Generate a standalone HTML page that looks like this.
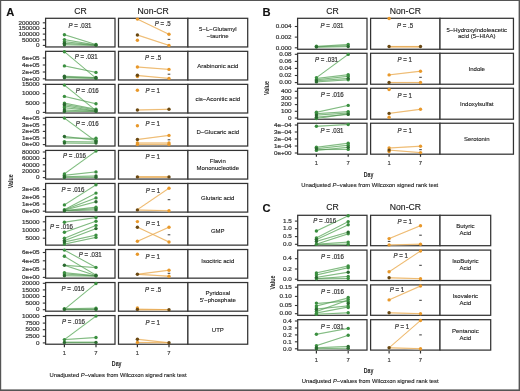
<!DOCTYPE html>
<html><head><meta charset="utf-8"><style>
html,body{margin:0;padding:0;background:#fff;width:520px;height:391px;overflow:hidden}
svg{display:block;font-family:"Liberation Sans", sans-serif;will-change:transform}
text{stroke-width:0.22px;paint-order:stroke}
.s{stroke:#3a3a3a}
.t{stroke:#1a1a1a;stroke-width:0.12px}
</style></head><body>
<svg width="520" height="391" viewBox="0 0 520 391">
<rect x="0" y="0" width="520" height="1" fill="#555"/><rect x="0" y="0" width="1.2" height="391" fill="#555"/><rect x="518.6" y="0" width="1.4" height="391" fill="#555"/><rect x="0" y="389.4" width="520" height="1.6" fill="#555"/>
<text class="t" x="6.20" y="15.70" font-size="11.2" text-anchor="start" fill="#111" font-weight="bold">A</text>
<text class="t" x="80.50" y="13.50" font-size="8.66" text-anchor="middle" fill="#1a1a1a" >CR</text>
<text class="t" x="153.25" y="13.50" font-size="8.66" text-anchor="middle" fill="#1a1a1a" >Non-CR</text>
<rect x="45.6" y="18.3" width="69.40" height="28.65" fill="#fff" stroke="#333" stroke-width="1.25"/>
<rect x="118.5" y="18.3" width="69.40" height="28.65" fill="#fff" stroke="#333" stroke-width="1.25"/>
<rect x="187.9" y="18.3" width="59.80" height="28.65" fill="#fff" stroke="#333" stroke-width="1.25"/>
<text class="t" x="217.80" y="30.98" font-size="6.0" text-anchor="middle" fill="#1a1a1a" >5−L−Glutamyl</text>
<text class="t" x="217.80" y="37.77" font-size="6.0" text-anchor="middle" fill="#1a1a1a" >−taurine</text>
<text class="s" x="0" y="0" font-size="5.5" text-anchor="end" fill="#3a3a3a" transform="translate(39.60,24.50) scale(1.15,1)">200000</text>
<line x1="42.800000000000004" y1="22.8" x2="45.6" y2="22.8" stroke="#333" stroke-width="1.1" />
<text class="s" x="0" y="0" font-size="5.5" text-anchor="end" fill="#3a3a3a" transform="translate(39.60,30.10) scale(1.15,1)">150000</text>
<line x1="42.800000000000004" y1="28.4" x2="45.6" y2="28.4" stroke="#333" stroke-width="1.1" />
<text class="s" x="0" y="0" font-size="5.5" text-anchor="end" fill="#3a3a3a" transform="translate(39.60,35.80) scale(1.15,1)">100000</text>
<line x1="42.800000000000004" y1="34.1" x2="45.6" y2="34.1" stroke="#333" stroke-width="1.1" />
<text class="s" x="0" y="0" font-size="5.5" text-anchor="end" fill="#3a3a3a" transform="translate(39.60,41.50) scale(1.15,1)">50000</text>
<line x1="42.800000000000004" y1="39.8" x2="45.6" y2="39.8" stroke="#333" stroke-width="1.1" />
<text class="s" x="0" y="0" font-size="5.5" text-anchor="end" fill="#3a3a3a" transform="translate(39.60,47.10) scale(1.15,1)">0</text>
<line x1="42.800000000000004" y1="45.4" x2="45.6" y2="45.4" stroke="#333" stroke-width="1.1" />
<rect x="45.6" y="51.33" width="69.40" height="28.65" fill="#fff" stroke="#333" stroke-width="1.25"/>
<rect x="118.5" y="51.33" width="69.40" height="28.65" fill="#fff" stroke="#333" stroke-width="1.25"/>
<rect x="187.9" y="51.33" width="59.80" height="28.65" fill="#fff" stroke="#333" stroke-width="1.25"/>
<text class="t" x="217.80" y="67.75" font-size="6.0" text-anchor="middle" fill="#1a1a1a" >Arabinonic acid</text>
<text class="s" x="0" y="0" font-size="5.5" text-anchor="end" fill="#3a3a3a" transform="translate(39.60,59.70) scale(1.15,1)">6e+05</text>
<line x1="42.800000000000004" y1="58" x2="45.6" y2="58" stroke="#333" stroke-width="1.1" />
<text class="s" x="0" y="0" font-size="5.5" text-anchor="end" fill="#3a3a3a" transform="translate(39.60,66.70) scale(1.15,1)">4e+05</text>
<line x1="42.800000000000004" y1="65" x2="45.6" y2="65" stroke="#333" stroke-width="1.1" />
<text class="s" x="0" y="0" font-size="5.5" text-anchor="end" fill="#3a3a3a" transform="translate(39.60,73.70) scale(1.15,1)">2e+05</text>
<line x1="42.800000000000004" y1="72" x2="45.6" y2="72" stroke="#333" stroke-width="1.1" />
<text class="s" x="0" y="0" font-size="5.5" text-anchor="end" fill="#3a3a3a" transform="translate(39.60,80.50) scale(1.15,1)">0e+00</text>
<line x1="42.800000000000004" y1="78.8" x2="45.6" y2="78.8" stroke="#333" stroke-width="1.1" />
<rect x="45.6" y="84.36" width="69.40" height="28.65" fill="#fff" stroke="#333" stroke-width="1.25"/>
<rect x="118.5" y="84.36" width="69.40" height="28.65" fill="#fff" stroke="#333" stroke-width="1.25"/>
<rect x="187.9" y="84.36" width="59.80" height="28.65" fill="#fff" stroke="#333" stroke-width="1.25"/>
<text class="t" x="217.80" y="100.78" font-size="6.0" text-anchor="middle" fill="#1a1a1a" >cis−Aconitic acid</text>
<text class="s" x="0" y="0" font-size="5.5" text-anchor="end" fill="#3a3a3a" transform="translate(39.60,86.00) scale(1.15,1)">15000</text>
<line x1="42.800000000000004" y1="84.3" x2="45.6" y2="84.3" stroke="#333" stroke-width="1.1" />
<text class="s" x="0" y="0" font-size="5.5" text-anchor="end" fill="#3a3a3a" transform="translate(39.60,95.40) scale(1.15,1)">10000</text>
<line x1="42.800000000000004" y1="93.7" x2="45.6" y2="93.7" stroke="#333" stroke-width="1.1" />
<text class="s" x="0" y="0" font-size="5.5" text-anchor="end" fill="#3a3a3a" transform="translate(39.60,104.70) scale(1.15,1)">5000</text>
<line x1="42.800000000000004" y1="103" x2="45.6" y2="103" stroke="#333" stroke-width="1.1" />
<text class="s" x="0" y="0" font-size="5.5" text-anchor="end" fill="#3a3a3a" transform="translate(39.60,114.10) scale(1.15,1)">0</text>
<line x1="42.800000000000004" y1="112.4" x2="45.6" y2="112.4" stroke="#333" stroke-width="1.1" />
<rect x="45.6" y="117.39" width="69.40" height="28.65" fill="#fff" stroke="#333" stroke-width="1.25"/>
<rect x="118.5" y="117.39" width="69.40" height="28.65" fill="#fff" stroke="#333" stroke-width="1.25"/>
<rect x="187.9" y="117.39" width="59.80" height="28.65" fill="#fff" stroke="#333" stroke-width="1.25"/>
<text class="t" x="217.80" y="133.81" font-size="6.0" text-anchor="middle" fill="#1a1a1a" >D−Glucaric acid</text>
<text class="s" x="0" y="0" font-size="5.5" text-anchor="end" fill="#3a3a3a" transform="translate(39.60,119.90) scale(1.15,1)">4e+05</text>
<line x1="42.800000000000004" y1="118.2" x2="45.6" y2="118.2" stroke="#333" stroke-width="1.1" />
<text class="s" x="0" y="0" font-size="5.5" text-anchor="end" fill="#3a3a3a" transform="translate(39.60,126.50) scale(1.15,1)">3e+05</text>
<line x1="42.800000000000004" y1="124.8" x2="45.6" y2="124.8" stroke="#333" stroke-width="1.1" />
<text class="s" x="0" y="0" font-size="5.5" text-anchor="end" fill="#3a3a3a" transform="translate(39.60,133.10) scale(1.15,1)">2e+05</text>
<line x1="42.800000000000004" y1="131.4" x2="45.6" y2="131.4" stroke="#333" stroke-width="1.1" />
<text class="s" x="0" y="0" font-size="5.5" text-anchor="end" fill="#3a3a3a" transform="translate(39.60,139.70) scale(1.15,1)">1e+05</text>
<line x1="42.800000000000004" y1="138" x2="45.6" y2="138" stroke="#333" stroke-width="1.1" />
<text class="s" x="0" y="0" font-size="5.5" text-anchor="end" fill="#3a3a3a" transform="translate(39.60,146.30) scale(1.15,1)">0e+00</text>
<line x1="42.800000000000004" y1="144.6" x2="45.6" y2="144.6" stroke="#333" stroke-width="1.1" />
<rect x="45.6" y="150.42000000000002" width="69.40" height="28.65" fill="#fff" stroke="#333" stroke-width="1.25"/>
<rect x="118.5" y="150.42000000000002" width="69.40" height="28.65" fill="#fff" stroke="#333" stroke-width="1.25"/>
<rect x="187.9" y="150.42000000000002" width="59.80" height="28.65" fill="#fff" stroke="#333" stroke-width="1.25"/>
<text class="t" x="217.80" y="163.09" font-size="6.0" text-anchor="middle" fill="#1a1a1a" >Flavin</text>
<text class="t" x="217.80" y="169.90" font-size="6.0" text-anchor="middle" fill="#1a1a1a" >Mononucleotide</text>
<text class="s" x="0" y="0" font-size="5.5" text-anchor="end" fill="#3a3a3a" transform="translate(39.60,153.70) scale(1.15,1)">80000</text>
<line x1="42.800000000000004" y1="152" x2="45.6" y2="152" stroke="#333" stroke-width="1.1" />
<text class="s" x="0" y="0" font-size="5.5" text-anchor="end" fill="#3a3a3a" transform="translate(39.60,160.10) scale(1.15,1)">60000</text>
<line x1="42.800000000000004" y1="158.4" x2="45.6" y2="158.4" stroke="#333" stroke-width="1.1" />
<text class="s" x="0" y="0" font-size="5.5" text-anchor="end" fill="#3a3a3a" transform="translate(39.60,166.50) scale(1.15,1)">40000</text>
<line x1="42.800000000000004" y1="164.8" x2="45.6" y2="164.8" stroke="#333" stroke-width="1.1" />
<text class="s" x="0" y="0" font-size="5.5" text-anchor="end" fill="#3a3a3a" transform="translate(39.60,172.90) scale(1.15,1)">20000</text>
<line x1="42.800000000000004" y1="171.2" x2="45.6" y2="171.2" stroke="#333" stroke-width="1.1" />
<text class="s" x="0" y="0" font-size="5.5" text-anchor="end" fill="#3a3a3a" transform="translate(39.60,179.30) scale(1.15,1)">0</text>
<line x1="42.800000000000004" y1="177.6" x2="45.6" y2="177.6" stroke="#333" stroke-width="1.1" />
<rect x="45.6" y="183.45000000000002" width="69.40" height="28.65" fill="#fff" stroke="#333" stroke-width="1.25"/>
<rect x="118.5" y="183.45000000000002" width="69.40" height="28.65" fill="#fff" stroke="#333" stroke-width="1.25"/>
<rect x="187.9" y="183.45000000000002" width="59.80" height="28.65" fill="#fff" stroke="#333" stroke-width="1.25"/>
<text class="t" x="217.80" y="199.88" font-size="6.0" text-anchor="middle" fill="#1a1a1a" >Glutaric acid</text>
<text class="s" x="0" y="0" font-size="5.5" text-anchor="end" fill="#3a3a3a" transform="translate(39.60,191.20) scale(1.15,1)">3e+06</text>
<line x1="42.800000000000004" y1="189.5" x2="45.6" y2="189.5" stroke="#333" stroke-width="1.1" />
<text class="s" x="0" y="0" font-size="5.5" text-anchor="end" fill="#3a3a3a" transform="translate(39.60,198.50) scale(1.15,1)">2e+06</text>
<line x1="42.800000000000004" y1="196.8" x2="45.6" y2="196.8" stroke="#333" stroke-width="1.1" />
<text class="s" x="0" y="0" font-size="5.5" text-anchor="end" fill="#3a3a3a" transform="translate(39.60,205.70) scale(1.15,1)">1e+06</text>
<line x1="42.800000000000004" y1="204" x2="45.6" y2="204" stroke="#333" stroke-width="1.1" />
<text class="s" x="0" y="0" font-size="5.5" text-anchor="end" fill="#3a3a3a" transform="translate(39.60,212.90) scale(1.15,1)">0e+00</text>
<line x1="42.800000000000004" y1="211.2" x2="45.6" y2="211.2" stroke="#333" stroke-width="1.1" />
<rect x="45.6" y="216.48000000000002" width="69.40" height="28.65" fill="#fff" stroke="#333" stroke-width="1.25"/>
<rect x="118.5" y="216.48000000000002" width="69.40" height="28.65" fill="#fff" stroke="#333" stroke-width="1.25"/>
<rect x="187.9" y="216.48000000000002" width="59.80" height="28.65" fill="#fff" stroke="#333" stroke-width="1.25"/>
<text class="t" x="217.80" y="232.91" font-size="6.0" text-anchor="middle" fill="#1a1a1a" >GMP</text>
<text class="s" x="0" y="0" font-size="5.5" text-anchor="end" fill="#3a3a3a" transform="translate(39.60,223.50) scale(1.15,1)">15000</text>
<line x1="42.800000000000004" y1="221.8" x2="45.6" y2="221.8" stroke="#333" stroke-width="1.1" />
<text class="s" x="0" y="0" font-size="5.5" text-anchor="end" fill="#3a3a3a" transform="translate(39.60,231.70) scale(1.15,1)">10000</text>
<line x1="42.800000000000004" y1="230" x2="45.6" y2="230" stroke="#333" stroke-width="1.1" />
<text class="s" x="0" y="0" font-size="5.5" text-anchor="end" fill="#3a3a3a" transform="translate(39.60,239.90) scale(1.15,1)">5000</text>
<line x1="42.800000000000004" y1="238.2" x2="45.6" y2="238.2" stroke="#333" stroke-width="1.1" />
<rect x="45.6" y="249.51000000000002" width="69.40" height="28.65" fill="#fff" stroke="#333" stroke-width="1.25"/>
<rect x="118.5" y="249.51000000000002" width="69.40" height="28.65" fill="#fff" stroke="#333" stroke-width="1.25"/>
<rect x="187.9" y="249.51000000000002" width="59.80" height="28.65" fill="#fff" stroke="#333" stroke-width="1.25"/>
<text class="t" x="217.80" y="262.84" font-size="6.0" text-anchor="middle" fill="#1a1a1a" >Isocitric acid</text>
<text class="s" x="0" y="0" font-size="5.5" text-anchor="end" fill="#3a3a3a" transform="translate(39.60,254.20) scale(1.15,1)">6e+05</text>
<line x1="42.800000000000004" y1="252.5" x2="45.6" y2="252.5" stroke="#333" stroke-width="1.1" />
<text class="s" x="0" y="0" font-size="5.5" text-anchor="end" fill="#3a3a3a" transform="translate(39.60,262.50) scale(1.15,1)">4e+05</text>
<line x1="42.800000000000004" y1="260.8" x2="45.6" y2="260.8" stroke="#333" stroke-width="1.1" />
<text class="s" x="0" y="0" font-size="5.5" text-anchor="end" fill="#3a3a3a" transform="translate(39.60,270.80) scale(1.15,1)">2e+05</text>
<line x1="42.800000000000004" y1="269.1" x2="45.6" y2="269.1" stroke="#333" stroke-width="1.1" />
<text class="s" x="0" y="0" font-size="5.5" text-anchor="end" fill="#3a3a3a" transform="translate(39.60,279.10) scale(1.15,1)">0e+00</text>
<line x1="42.800000000000004" y1="277.4" x2="45.6" y2="277.4" stroke="#333" stroke-width="1.1" />
<rect x="45.6" y="282.54" width="69.40" height="28.65" fill="#fff" stroke="#333" stroke-width="1.25"/>
<rect x="118.5" y="282.54" width="69.40" height="28.65" fill="#fff" stroke="#333" stroke-width="1.25"/>
<rect x="187.9" y="282.54" width="59.80" height="28.65" fill="#fff" stroke="#333" stroke-width="1.25"/>
<text class="t" x="217.80" y="295.22" font-size="6.0" text-anchor="middle" fill="#1a1a1a" >Pyridoxal</text>
<text class="t" x="217.80" y="302.01" font-size="6.0" text-anchor="middle" fill="#1a1a1a" >5'−phosphate</text>
<text class="s" x="0" y="0" font-size="5.5" text-anchor="end" fill="#3a3a3a" transform="translate(39.60,285.00) scale(1.15,1)">20000</text>
<line x1="42.800000000000004" y1="283.3" x2="45.6" y2="283.3" stroke="#333" stroke-width="1.1" />
<text class="s" x="0" y="0" font-size="5.5" text-anchor="end" fill="#3a3a3a" transform="translate(39.60,291.60) scale(1.15,1)">15000</text>
<line x1="42.800000000000004" y1="289.9" x2="45.6" y2="289.9" stroke="#333" stroke-width="1.1" />
<text class="s" x="0" y="0" font-size="5.5" text-anchor="end" fill="#3a3a3a" transform="translate(39.60,298.20) scale(1.15,1)">10000</text>
<line x1="42.800000000000004" y1="296.5" x2="45.6" y2="296.5" stroke="#333" stroke-width="1.1" />
<text class="s" x="0" y="0" font-size="5.5" text-anchor="end" fill="#3a3a3a" transform="translate(39.60,304.80) scale(1.15,1)">5000</text>
<line x1="42.800000000000004" y1="303.1" x2="45.6" y2="303.1" stroke="#333" stroke-width="1.1" />
<text class="s" x="0" y="0" font-size="5.5" text-anchor="end" fill="#3a3a3a" transform="translate(39.60,311.40) scale(1.15,1)">0</text>
<line x1="42.800000000000004" y1="309.7" x2="45.6" y2="309.7" stroke="#333" stroke-width="1.1" />
<rect x="45.6" y="315.57" width="69.40" height="28.65" fill="#fff" stroke="#333" stroke-width="1.25"/>
<rect x="118.5" y="315.57" width="69.40" height="28.65" fill="#fff" stroke="#333" stroke-width="1.25"/>
<rect x="187.9" y="315.57" width="59.80" height="28.65" fill="#fff" stroke="#333" stroke-width="1.25"/>
<text class="t" x="217.80" y="332.00" font-size="6.0" text-anchor="middle" fill="#1a1a1a" >UTP</text>
<text class="s" x="0" y="0" font-size="5.5" text-anchor="end" fill="#3a3a3a" transform="translate(39.60,318.20) scale(1.15,1)">10000</text>
<line x1="42.800000000000004" y1="316.5" x2="45.6" y2="316.5" stroke="#333" stroke-width="1.1" />
<text class="s" x="0" y="0" font-size="5.5" text-anchor="end" fill="#3a3a3a" transform="translate(39.60,324.80) scale(1.15,1)">7500</text>
<line x1="42.800000000000004" y1="323.1" x2="45.6" y2="323.1" stroke="#333" stroke-width="1.1" />
<text class="s" x="0" y="0" font-size="5.5" text-anchor="end" fill="#3a3a3a" transform="translate(39.60,331.40) scale(1.15,1)">5000</text>
<line x1="42.800000000000004" y1="329.7" x2="45.6" y2="329.7" stroke="#333" stroke-width="1.1" />
<text class="s" x="0" y="0" font-size="5.5" text-anchor="end" fill="#3a3a3a" transform="translate(39.60,338.00) scale(1.15,1)">2500</text>
<line x1="42.800000000000004" y1="336.3" x2="45.6" y2="336.3" stroke="#333" stroke-width="1.1" />
<text class="s" x="0" y="0" font-size="5.5" text-anchor="end" fill="#3a3a3a" transform="translate(39.60,344.60) scale(1.15,1)">0</text>
<line x1="42.800000000000004" y1="342.9" x2="45.6" y2="342.9" stroke="#333" stroke-width="1.1" />
<line x1="64.4" y1="34.7" x2="96.0" y2="44.6" stroke="#d2f4d2" stroke-width="1.4"/>
<line x1="64.4" y1="39.6" x2="96.0" y2="45" stroke="#d2f4d2" stroke-width="1.4"/>
<line x1="64.4" y1="41.7" x2="96.0" y2="45.2" stroke="#d2f4d2" stroke-width="1.4"/>
<line x1="64.4" y1="43.3" x2="96.0" y2="45.3" stroke="#d2f4d2" stroke-width="1.4"/>
<line x1="64.4" y1="44.7" x2="96.0" y2="45.4" stroke="#d2f4d2" stroke-width="1.4"/>
<line x1="64.4" y1="34.7" x2="96.0" y2="44.6" stroke="#4a8c4a" stroke-width="0.6"/>
<line x1="64.4" y1="39.6" x2="96.0" y2="45" stroke="#4a8c4a" stroke-width="0.6"/>
<line x1="64.4" y1="41.7" x2="96.0" y2="45.2" stroke="#4a8c4a" stroke-width="0.6"/>
<line x1="64.4" y1="43.3" x2="96.0" y2="45.3" stroke="#4a8c4a" stroke-width="0.6"/>
<line x1="64.4" y1="44.7" x2="96.0" y2="45.4" stroke="#4a8c4a" stroke-width="0.6"/>
<circle cx="64.4" cy="34.7" r="1.7" fill="#3b8f40"/>
<circle cx="64.4" cy="39.6" r="1.7" fill="#3b8f40"/>
<circle cx="64.4" cy="41.7" r="1.7" fill="#3b8f40"/>
<circle cx="96.0" cy="44.4" r="1.7" fill="#3b8f40"/>
<circle cx="64.4" cy="43.3" r="1.7" fill="#2b6a30"/>
<circle cx="64.4" cy="44.7" r="1.7" fill="#2b6a30"/>
<circle cx="96.0" cy="45.3" r="1.7" fill="#2b6a30"/>
<line x1="64.4" y1="51.7" x2="96.0" y2="78.2" stroke="#d2f4d2" stroke-width="1.4"/>
<line x1="64.4" y1="65.9" x2="96.0" y2="72.4" stroke="#d2f4d2" stroke-width="1.4"/>
<line x1="64.4" y1="76.3" x2="96.0" y2="77.6" stroke="#d2f4d2" stroke-width="1.4"/>
<line x1="64.4" y1="77.2" x2="96.0" y2="78" stroke="#d2f4d2" stroke-width="1.4"/>
<line x1="64.4" y1="77.8" x2="96.0" y2="78.4" stroke="#d2f4d2" stroke-width="1.4"/>
<line x1="64.4" y1="51.7" x2="96.0" y2="78.2" stroke="#4a8c4a" stroke-width="0.6"/>
<line x1="64.4" y1="65.9" x2="96.0" y2="72.4" stroke="#4a8c4a" stroke-width="0.6"/>
<line x1="64.4" y1="76.3" x2="96.0" y2="77.6" stroke="#4a8c4a" stroke-width="0.6"/>
<line x1="64.4" y1="77.2" x2="96.0" y2="78" stroke="#4a8c4a" stroke-width="0.6"/>
<line x1="64.4" y1="77.8" x2="96.0" y2="78.4" stroke="#4a8c4a" stroke-width="0.6"/>
<circle cx="64.4" cy="51.7" r="1.7" fill="#3b8f40"/>
<circle cx="64.4" cy="65.9" r="1.7" fill="#3b8f40"/>
<circle cx="96.0" cy="72.4" r="1.7" fill="#3b8f40"/>
<circle cx="64.4" cy="76.3" r="1.7" fill="#2b6a30"/>
<circle cx="64.4" cy="77.8" r="1.7" fill="#2b6a30"/>
<circle cx="96.0" cy="77.4" r="1.7" fill="#2b6a30"/>
<circle cx="96.0" cy="78.4" r="1.7" fill="#2b6a30"/>
<line x1="64.4" y1="85.1" x2="96.0" y2="110.6" stroke="#d2f4d2" stroke-width="1.4"/>
<line x1="64.4" y1="96.4" x2="96.0" y2="103.8" stroke="#d2f4d2" stroke-width="1.4"/>
<line x1="64.4" y1="103.1" x2="96.0" y2="109.3" stroke="#d2f4d2" stroke-width="1.4"/>
<line x1="64.4" y1="104.5" x2="96.0" y2="110" stroke="#d2f4d2" stroke-width="1.4"/>
<line x1="64.4" y1="105.9" x2="96.0" y2="111" stroke="#d2f4d2" stroke-width="1.4"/>
<line x1="64.4" y1="107.7" x2="96.0" y2="111.2" stroke="#d2f4d2" stroke-width="1.4"/>
<line x1="64.4" y1="110" x2="96.0" y2="111.4" stroke="#d2f4d2" stroke-width="1.4"/>
<line x1="64.4" y1="111.4" x2="96.0" y2="111.4" stroke="#d2f4d2" stroke-width="1.4"/>
<line x1="64.4" y1="85.1" x2="96.0" y2="110.6" stroke="#4a8c4a" stroke-width="0.6"/>
<line x1="64.4" y1="96.4" x2="96.0" y2="103.8" stroke="#4a8c4a" stroke-width="0.6"/>
<line x1="64.4" y1="103.1" x2="96.0" y2="109.3" stroke="#4a8c4a" stroke-width="0.6"/>
<line x1="64.4" y1="104.5" x2="96.0" y2="110" stroke="#4a8c4a" stroke-width="0.6"/>
<line x1="64.4" y1="105.9" x2="96.0" y2="111" stroke="#4a8c4a" stroke-width="0.6"/>
<line x1="64.4" y1="107.7" x2="96.0" y2="111.2" stroke="#4a8c4a" stroke-width="0.6"/>
<line x1="64.4" y1="110" x2="96.0" y2="111.4" stroke="#4a8c4a" stroke-width="0.6"/>
<line x1="64.4" y1="111.4" x2="96.0" y2="111.4" stroke="#4a8c4a" stroke-width="0.6"/>
<circle cx="64.4" cy="85.1" r="1.7" fill="#3b8f40"/>
<circle cx="64.4" cy="96.4" r="1.7" fill="#3b8f40"/>
<circle cx="64.4" cy="103.1" r="1.7" fill="#3b8f40"/>
<circle cx="64.4" cy="105.9" r="1.7" fill="#3b8f40"/>
<circle cx="64.4" cy="107.7" r="1.7" fill="#3b8f40"/>
<circle cx="96.0" cy="103.8" r="1.7" fill="#3b8f40"/>
<circle cx="96.0" cy="109.3" r="1.7" fill="#3b8f40"/>
<circle cx="64.4" cy="104.5" r="1.7" fill="#2b6a30"/>
<circle cx="64.4" cy="110" r="1.7" fill="#2b6a30"/>
<circle cx="64.4" cy="111.4" r="1.7" fill="#2b6a30"/>
<circle cx="96.0" cy="110.4" r="1.7" fill="#2b6a30"/>
<circle cx="96.0" cy="111.4" r="1.7" fill="#2b6a30"/>
<line x1="64.4" y1="118.1" x2="96.0" y2="141.4" stroke="#d2f4d2" stroke-width="1.4"/>
<line x1="64.4" y1="136.5" x2="96.0" y2="140.2" stroke="#d2f4d2" stroke-width="1.4"/>
<line x1="64.4" y1="137.9" x2="96.0" y2="138.5" stroke="#d2f4d2" stroke-width="1.4"/>
<line x1="64.4" y1="141.6" x2="96.0" y2="142" stroke="#d2f4d2" stroke-width="1.4"/>
<line x1="64.4" y1="143" x2="96.0" y2="143.4" stroke="#d2f4d2" stroke-width="1.4"/>
<line x1="64.4" y1="118.1" x2="96.0" y2="141.4" stroke="#4a8c4a" stroke-width="0.6"/>
<line x1="64.4" y1="136.5" x2="96.0" y2="140.2" stroke="#4a8c4a" stroke-width="0.6"/>
<line x1="64.4" y1="137.9" x2="96.0" y2="138.5" stroke="#4a8c4a" stroke-width="0.6"/>
<line x1="64.4" y1="141.6" x2="96.0" y2="142" stroke="#4a8c4a" stroke-width="0.6"/>
<line x1="64.4" y1="143" x2="96.0" y2="143.4" stroke="#4a8c4a" stroke-width="0.6"/>
<circle cx="64.4" cy="118.1" r="1.7" fill="#3b8f40"/>
<circle cx="64.4" cy="141.6" r="1.7" fill="#3b8f40"/>
<circle cx="96.0" cy="138.2" r="1.7" fill="#3b8f40"/>
<circle cx="96.0" cy="140.2" r="1.7" fill="#3b8f40"/>
<circle cx="64.4" cy="136.5" r="1.7" fill="#2b6a30"/>
<circle cx="64.4" cy="143" r="1.7" fill="#2b6a30"/>
<circle cx="96.0" cy="141.6" r="1.7" fill="#2b6a30"/>
<circle cx="96.0" cy="143" r="1.7" fill="#2b6a30"/>
<line x1="64.4" y1="173.9" x2="96.0" y2="151.1" stroke="#d2f4d2" stroke-width="1.4"/>
<line x1="64.4" y1="175.3" x2="96.0" y2="171.9" stroke="#d2f4d2" stroke-width="1.4"/>
<line x1="64.4" y1="176.7" x2="96.0" y2="176" stroke="#d2f4d2" stroke-width="1.4"/>
<line x1="64.4" y1="177.4" x2="96.0" y2="177.4" stroke="#d2f4d2" stroke-width="1.4"/>
<line x1="64.4" y1="173.9" x2="96.0" y2="151.1" stroke="#4a8c4a" stroke-width="0.6"/>
<line x1="64.4" y1="175.3" x2="96.0" y2="171.9" stroke="#4a8c4a" stroke-width="0.6"/>
<line x1="64.4" y1="176.7" x2="96.0" y2="176" stroke="#4a8c4a" stroke-width="0.6"/>
<line x1="64.4" y1="177.4" x2="96.0" y2="177.4" stroke="#4a8c4a" stroke-width="0.6"/>
<circle cx="64.4" cy="173.9" r="1.7" fill="#3b8f40"/>
<circle cx="64.4" cy="175.3" r="1.7" fill="#3b8f40"/>
<circle cx="96.0" cy="151.1" r="1.7" fill="#3b8f40"/>
<circle cx="96.0" cy="171.9" r="1.7" fill="#3b8f40"/>
<circle cx="64.4" cy="176.7" r="1.7" fill="#2b6a30"/>
<circle cx="64.4" cy="177.4" r="1.7" fill="#2b6a30"/>
<circle cx="96.0" cy="176" r="1.7" fill="#2b6a30"/>
<circle cx="96.0" cy="177.4" r="1.7" fill="#2b6a30"/>
<line x1="64.4" y1="204.9" x2="96.0" y2="184.8" stroke="#d2f4d2" stroke-width="1.4"/>
<line x1="64.4" y1="209.7" x2="96.0" y2="193.1" stroke="#d2f4d2" stroke-width="1.4"/>
<line x1="64.4" y1="209.9" x2="96.0" y2="197.9" stroke="#d2f4d2" stroke-width="1.4"/>
<line x1="64.4" y1="210.2" x2="96.0" y2="201.7" stroke="#d2f4d2" stroke-width="1.4"/>
<line x1="64.4" y1="210.7" x2="96.0" y2="207.2" stroke="#d2f4d2" stroke-width="1.4"/>
<line x1="64.4" y1="210.7" x2="96.0" y2="208.6" stroke="#d2f4d2" stroke-width="1.4"/>
<line x1="64.4" y1="210.9" x2="96.0" y2="209.9" stroke="#d2f4d2" stroke-width="1.4"/>
<line x1="64.4" y1="204.9" x2="96.0" y2="184.8" stroke="#4a8c4a" stroke-width="0.6"/>
<line x1="64.4" y1="209.7" x2="96.0" y2="193.1" stroke="#4a8c4a" stroke-width="0.6"/>
<line x1="64.4" y1="209.9" x2="96.0" y2="197.9" stroke="#4a8c4a" stroke-width="0.6"/>
<line x1="64.4" y1="210.2" x2="96.0" y2="201.7" stroke="#4a8c4a" stroke-width="0.6"/>
<line x1="64.4" y1="210.7" x2="96.0" y2="207.2" stroke="#4a8c4a" stroke-width="0.6"/>
<line x1="64.4" y1="210.7" x2="96.0" y2="208.6" stroke="#4a8c4a" stroke-width="0.6"/>
<line x1="64.4" y1="210.9" x2="96.0" y2="209.9" stroke="#4a8c4a" stroke-width="0.6"/>
<circle cx="64.4" cy="204.9" r="1.7" fill="#3b8f40"/>
<circle cx="64.4" cy="209.7" r="1.7" fill="#3b8f40"/>
<circle cx="96.0" cy="184.8" r="1.7" fill="#3b8f40"/>
<circle cx="96.0" cy="193.1" r="1.7" fill="#3b8f40"/>
<circle cx="96.0" cy="197.9" r="1.7" fill="#3b8f40"/>
<circle cx="96.0" cy="207.2" r="1.7" fill="#3b8f40"/>
<circle cx="96.0" cy="208.6" r="1.7" fill="#3b8f40"/>
<circle cx="64.4" cy="210.7" r="1.7" fill="#2b6a30"/>
<circle cx="96.0" cy="201.7" r="1.7" fill="#2b6a30"/>
<circle cx="96.0" cy="209.9" r="1.7" fill="#2b6a30"/>
<line x1="64.4" y1="222.2" x2="96.0" y2="217.5" stroke="#d2f4d2" stroke-width="1.4"/>
<line x1="64.4" y1="232.3" x2="96.0" y2="221.2" stroke="#d2f4d2" stroke-width="1.4"/>
<line x1="64.4" y1="238.3" x2="96.0" y2="225.4" stroke="#d2f4d2" stroke-width="1.4"/>
<line x1="64.4" y1="240.6" x2="96.0" y2="228.6" stroke="#d2f4d2" stroke-width="1.4"/>
<line x1="64.4" y1="242" x2="96.0" y2="235.1" stroke="#d2f4d2" stroke-width="1.4"/>
<line x1="64.4" y1="244.1" x2="96.0" y2="237.4" stroke="#d2f4d2" stroke-width="1.4"/>
<line x1="64.4" y1="222.2" x2="96.0" y2="217.5" stroke="#4a8c4a" stroke-width="0.6"/>
<line x1="64.4" y1="232.3" x2="96.0" y2="221.2" stroke="#4a8c4a" stroke-width="0.6"/>
<line x1="64.4" y1="238.3" x2="96.0" y2="225.4" stroke="#4a8c4a" stroke-width="0.6"/>
<line x1="64.4" y1="240.6" x2="96.0" y2="228.6" stroke="#4a8c4a" stroke-width="0.6"/>
<line x1="64.4" y1="242" x2="96.0" y2="235.1" stroke="#4a8c4a" stroke-width="0.6"/>
<line x1="64.4" y1="244.1" x2="96.0" y2="237.4" stroke="#4a8c4a" stroke-width="0.6"/>
<circle cx="64.4" cy="222.2" r="1.7" fill="#3b8f40"/>
<circle cx="64.4" cy="232.3" r="1.7" fill="#3b8f40"/>
<circle cx="64.4" cy="238.3" r="1.7" fill="#3b8f40"/>
<circle cx="64.4" cy="244.1" r="1.7" fill="#3b8f40"/>
<circle cx="96.0" cy="217.5" r="1.7" fill="#3b8f40"/>
<circle cx="96.0" cy="221.2" r="1.7" fill="#3b8f40"/>
<circle cx="96.0" cy="225.4" r="1.7" fill="#3b8f40"/>
<circle cx="96.0" cy="235.1" r="1.7" fill="#3b8f40"/>
<circle cx="96.0" cy="237.4" r="1.7" fill="#3b8f40"/>
<circle cx="64.4" cy="240.6" r="1.7" fill="#2b6a30"/>
<circle cx="64.4" cy="242" r="1.7" fill="#2b6a30"/>
<circle cx="96.0" cy="228.6" r="1.7" fill="#2b6a30"/>
<line x1="64.4" y1="250.1" x2="96.0" y2="267.4" stroke="#d2f4d2" stroke-width="1.4"/>
<line x1="64.4" y1="256.3" x2="96.0" y2="275.2" stroke="#d2f4d2" stroke-width="1.4"/>
<line x1="64.4" y1="265.3" x2="96.0" y2="267.6" stroke="#d2f4d2" stroke-width="1.4"/>
<line x1="64.4" y1="265.3" x2="96.0" y2="275.6" stroke="#d2f4d2" stroke-width="1.4"/>
<line x1="64.4" y1="272.7" x2="96.0" y2="275.8" stroke="#d2f4d2" stroke-width="1.4"/>
<line x1="64.4" y1="274" x2="96.0" y2="276" stroke="#d2f4d2" stroke-width="1.4"/>
<line x1="64.4" y1="275.7" x2="96.0" y2="276.1" stroke="#d2f4d2" stroke-width="1.4"/>
<line x1="64.4" y1="250.1" x2="96.0" y2="267.4" stroke="#4a8c4a" stroke-width="0.6"/>
<line x1="64.4" y1="256.3" x2="96.0" y2="275.2" stroke="#4a8c4a" stroke-width="0.6"/>
<line x1="64.4" y1="265.3" x2="96.0" y2="267.6" stroke="#4a8c4a" stroke-width="0.6"/>
<line x1="64.4" y1="265.3" x2="96.0" y2="275.6" stroke="#4a8c4a" stroke-width="0.6"/>
<line x1="64.4" y1="272.7" x2="96.0" y2="275.8" stroke="#4a8c4a" stroke-width="0.6"/>
<line x1="64.4" y1="274" x2="96.0" y2="276" stroke="#4a8c4a" stroke-width="0.6"/>
<line x1="64.4" y1="275.7" x2="96.0" y2="276.1" stroke="#4a8c4a" stroke-width="0.6"/>
<circle cx="64.4" cy="250.1" r="1.7" fill="#3b8f40"/>
<circle cx="64.4" cy="256.3" r="1.7" fill="#3b8f40"/>
<circle cx="64.4" cy="272.7" r="1.7" fill="#3b8f40"/>
<circle cx="64.4" cy="274" r="1.7" fill="#3b8f40"/>
<circle cx="96.0" cy="267.4" r="1.7" fill="#3b8f40"/>
<circle cx="64.4" cy="265.3" r="1.7" fill="#2b6a30"/>
<circle cx="64.4" cy="275.7" r="1.7" fill="#2b6a30"/>
<circle cx="96.0" cy="275.2" r="1.7" fill="#2b6a30"/>
<circle cx="96.0" cy="276.1" r="1.7" fill="#2b6a30"/>
<line x1="64.4" y1="309.4" x2="96.0" y2="283.5" stroke="#d2f4d2" stroke-width="1.4"/>
<line x1="64.4" y1="308.8" x2="96.0" y2="308.2" stroke="#d2f4d2" stroke-width="1.4"/>
<line x1="64.4" y1="309.4" x2="96.0" y2="309.2" stroke="#d2f4d2" stroke-width="1.4"/>
<line x1="64.4" y1="309.6" x2="96.0" y2="309.6" stroke="#d2f4d2" stroke-width="1.4"/>
<line x1="64.4" y1="309.4" x2="96.0" y2="283.5" stroke="#4a8c4a" stroke-width="0.6"/>
<line x1="64.4" y1="308.8" x2="96.0" y2="308.2" stroke="#4a8c4a" stroke-width="0.6"/>
<line x1="64.4" y1="309.4" x2="96.0" y2="309.2" stroke="#4a8c4a" stroke-width="0.6"/>
<line x1="64.4" y1="309.6" x2="96.0" y2="309.6" stroke="#4a8c4a" stroke-width="0.6"/>
<circle cx="64.4" cy="308.6" r="1.7" fill="#3b8f40"/>
<circle cx="96.0" cy="283.5" r="1.7" fill="#3b8f40"/>
<circle cx="96.0" cy="308.2" r="1.7" fill="#3b8f40"/>
<circle cx="64.4" cy="309.4" r="1.7" fill="#2b6a30"/>
<circle cx="96.0" cy="309.4" r="1.7" fill="#2b6a30"/>
<line x1="64.4" y1="339.6" x2="96.0" y2="316.1" stroke="#d2f4d2" stroke-width="1.4"/>
<line x1="64.4" y1="339.6" x2="96.0" y2="337.5" stroke="#d2f4d2" stroke-width="1.4"/>
<line x1="64.4" y1="342.2" x2="96.0" y2="342.2" stroke="#d2f4d2" stroke-width="1.4"/>
<line x1="64.4" y1="342.6" x2="96.0" y2="342.6" stroke="#d2f4d2" stroke-width="1.4"/>
<line x1="64.4" y1="339.6" x2="96.0" y2="316.1" stroke="#4a8c4a" stroke-width="0.6"/>
<line x1="64.4" y1="339.6" x2="96.0" y2="337.5" stroke="#4a8c4a" stroke-width="0.6"/>
<line x1="64.4" y1="342.2" x2="96.0" y2="342.2" stroke="#4a8c4a" stroke-width="0.6"/>
<line x1="64.4" y1="342.6" x2="96.0" y2="342.6" stroke="#4a8c4a" stroke-width="0.6"/>
<circle cx="64.4" cy="339.6" r="1.7" fill="#3b8f40"/>
<circle cx="96.0" cy="316.1" r="1.7" fill="#3b8f40"/>
<circle cx="96.0" cy="337.5" r="1.7" fill="#3b8f40"/>
<circle cx="64.4" cy="342.4" r="1.7" fill="#2b6a30"/>
<circle cx="96.0" cy="342.4" r="1.7" fill="#2b6a30"/>
<text class="s" x="0" y="0" font-size="6.8" text-anchor="middle" fill="#333" transform="translate(80.00,28.00) scale(0.9,1)"><tspan font-style="italic">P</tspan> = .031</text>
<text class="s" x="0" y="0" font-size="6.8" text-anchor="middle" fill="#333" transform="translate(86.20,59.20) scale(0.9,1)"><tspan font-style="italic">P</tspan> = .031</text>
<text class="s" x="0" y="0" font-size="6.8" text-anchor="middle" fill="#333" transform="translate(87.30,92.70) scale(0.9,1)"><tspan font-style="italic">P</tspan> = .016</text>
<text class="s" x="0" y="0" font-size="6.8" text-anchor="middle" fill="#333" transform="translate(87.20,125.70) scale(0.9,1)"><tspan font-style="italic">P</tspan> = .016</text>
<text class="s" x="0" y="0" font-size="6.8" text-anchor="middle" fill="#333" transform="translate(74.50,158.40) scale(0.9,1)"><tspan font-style="italic">P</tspan> = .016</text>
<text class="s" x="0" y="0" font-size="6.8" text-anchor="middle" fill="#333" transform="translate(72.90,191.80) scale(0.9,1)"><tspan font-style="italic">P</tspan> = .016</text>
<text class="s" x="0" y="0" font-size="6.8" text-anchor="middle" fill="#333" transform="translate(61.50,228.70) scale(0.9,1)"><tspan font-style="italic">P</tspan> = .016</text>
<text class="s" x="0" y="0" font-size="6.8" text-anchor="middle" fill="#333" transform="translate(90.30,257.40) scale(0.9,1)"><tspan font-style="italic">P</tspan> = .031</text>
<text class="s" x="0" y="0" font-size="6.8" text-anchor="middle" fill="#333" transform="translate(72.90,290.80) scale(0.9,1)"><tspan font-style="italic">P</tspan> = .016</text>
<text class="s" x="0" y="0" font-size="6.8" text-anchor="middle" fill="#333" transform="translate(73.50,324.20) scale(0.9,1)"><tspan font-style="italic">P</tspan> = .016</text>
<line x1="137.4" y1="19.1" x2="169.0" y2="34.3" stroke="#fde6c4" stroke-width="1.4"/>
<line x1="137.4" y1="35" x2="169.0" y2="45.4" stroke="#fde6c4" stroke-width="1.4"/>
<line x1="137.4" y1="19.1" x2="169.0" y2="34.3" stroke="#e09c3a" stroke-width="0.6"/>
<line x1="137.4" y1="35" x2="169.0" y2="45.4" stroke="#e09c3a" stroke-width="0.6"/>
<circle cx="137.4" cy="19.1" r="1.7" fill="#e8982a"/>
<circle cx="137.4" cy="40.3" r="1.7" fill="#e8982a"/>
<circle cx="169.0" cy="34.3" r="1.7" fill="#e8982a"/>
<circle cx="169.0" cy="45.4" r="1.7" fill="#e8982a"/>
<circle cx="137.4" cy="35" r="1.7" fill="#6a4812"/>
<line x1="167.7" y1="39.4" x2="170.3" y2="39.4" stroke="#222" stroke-width="0.9"/>
<line x1="137.4" y1="67" x2="169.0" y2="69.4" stroke="#fde6c4" stroke-width="1.4"/>
<line x1="137.4" y1="75.5" x2="169.0" y2="78.4" stroke="#fde6c4" stroke-width="1.4"/>
<line x1="137.4" y1="67" x2="169.0" y2="69.4" stroke="#e09c3a" stroke-width="0.6"/>
<line x1="137.4" y1="75.5" x2="169.0" y2="78.4" stroke="#e09c3a" stroke-width="0.6"/>
<circle cx="137.4" cy="67" r="1.7" fill="#e8982a"/>
<circle cx="137.4" cy="76.6" r="1.7" fill="#e8982a"/>
<circle cx="169.0" cy="69.4" r="1.7" fill="#e8982a"/>
<circle cx="169.0" cy="78.4" r="1.7" fill="#e8982a"/>
<circle cx="137.4" cy="75.2" r="1.7" fill="#6a4812"/>
<line x1="167.7" y1="74.2" x2="170.3" y2="74.2" stroke="#222" stroke-width="0.9"/>
<line x1="137.4" y1="110" x2="169.0" y2="109.3" stroke="#fde6c4" stroke-width="1.4"/>
<line x1="137.4" y1="110" x2="169.0" y2="109.3" stroke="#e09c3a" stroke-width="0.6"/>
<circle cx="137.4" cy="90.2" r="1.7" fill="#e8982a"/>
<circle cx="137.4" cy="110" r="1.7" fill="#6a4812"/>
<circle cx="169.0" cy="109.3" r="1.7" fill="#6a4812"/>
<line x1="137.4" y1="139.5" x2="169.0" y2="135.4" stroke="#fde6c4" stroke-width="1.4"/>
<line x1="137.4" y1="143" x2="169.0" y2="143" stroke="#fde6c4" stroke-width="1.4"/>
<line x1="137.4" y1="144.4" x2="169.0" y2="144.4" stroke="#fde6c4" stroke-width="1.4"/>
<line x1="137.4" y1="139.5" x2="169.0" y2="135.4" stroke="#e09c3a" stroke-width="0.6"/>
<line x1="137.4" y1="143" x2="169.0" y2="143" stroke="#e09c3a" stroke-width="0.6"/>
<line x1="137.4" y1="144.4" x2="169.0" y2="144.4" stroke="#e09c3a" stroke-width="0.6"/>
<circle cx="137.4" cy="125.7" r="1.7" fill="#e8982a"/>
<circle cx="137.4" cy="143" r="1.7" fill="#e8982a"/>
<circle cx="137.4" cy="144.4" r="1.7" fill="#e8982a"/>
<circle cx="169.0" cy="135.4" r="1.7" fill="#e8982a"/>
<circle cx="169.0" cy="143" r="1.7" fill="#e8982a"/>
<circle cx="169.0" cy="144.4" r="1.7" fill="#e8982a"/>
<circle cx="137.4" cy="139.5" r="1.7" fill="#6a4812"/>
<line x1="167.7" y1="139.8" x2="170.3" y2="139.8" stroke="#222" stroke-width="0.9"/>
<line x1="137.4" y1="176.7" x2="169.0" y2="176.7" stroke="#fde6c4" stroke-width="1.4"/>
<line x1="137.4" y1="177.3" x2="169.0" y2="177.3" stroke="#fde6c4" stroke-width="1.4"/>
<line x1="137.4" y1="176.7" x2="169.0" y2="176.7" stroke="#e09c3a" stroke-width="0.6"/>
<line x1="137.4" y1="177.3" x2="169.0" y2="177.3" stroke="#e09c3a" stroke-width="0.6"/>
<circle cx="137.4" cy="176.9" r="1.7" fill="#6a4812"/>
<circle cx="169.0" cy="176.9" r="1.7" fill="#6a4812"/>
<line x1="137.4" y1="209.7" x2="169.0" y2="188.2" stroke="#fde6c4" stroke-width="1.4"/>
<line x1="137.4" y1="210" x2="169.0" y2="210.8" stroke="#fde6c4" stroke-width="1.4"/>
<line x1="137.4" y1="209.7" x2="169.0" y2="188.2" stroke="#e09c3a" stroke-width="0.6"/>
<line x1="137.4" y1="210" x2="169.0" y2="210.8" stroke="#e09c3a" stroke-width="0.6"/>
<circle cx="169.0" cy="188.2" r="1.7" fill="#e8982a"/>
<circle cx="169.0" cy="210.8" r="1.7" fill="#e8982a"/>
<circle cx="137.4" cy="209.9" r="1.7" fill="#6a4812"/>
<line x1="167.7" y1="199.7" x2="170.3" y2="199.7" stroke="#222" stroke-width="0.9"/>
<line x1="137.4" y1="227.2" x2="169.0" y2="242" stroke="#fde6c4" stroke-width="1.4"/>
<line x1="137.4" y1="241.3" x2="169.0" y2="227.2" stroke="#fde6c4" stroke-width="1.4"/>
<line x1="137.4" y1="227.2" x2="169.0" y2="242" stroke="#e09c3a" stroke-width="0.6"/>
<line x1="137.4" y1="241.3" x2="169.0" y2="227.2" stroke="#e09c3a" stroke-width="0.6"/>
<circle cx="137.4" cy="221.6" r="1.7" fill="#e8982a"/>
<circle cx="137.4" cy="241.3" r="1.7" fill="#e8982a"/>
<circle cx="169.0" cy="227.2" r="1.7" fill="#e8982a"/>
<circle cx="169.0" cy="242" r="1.7" fill="#e8982a"/>
<circle cx="137.4" cy="227.2" r="1.7" fill="#6a4812"/>
<line x1="167.7" y1="234.8" x2="170.3" y2="234.8" stroke="#222" stroke-width="0.9"/>
<line x1="137.4" y1="274.3" x2="169.0" y2="270.2" stroke="#fde6c4" stroke-width="1.4"/>
<line x1="137.4" y1="274.3" x2="169.0" y2="276.2" stroke="#fde6c4" stroke-width="1.4"/>
<line x1="137.4" y1="274.3" x2="169.0" y2="270.2" stroke="#e09c3a" stroke-width="0.6"/>
<line x1="137.4" y1="274.3" x2="169.0" y2="276.2" stroke="#e09c3a" stroke-width="0.6"/>
<circle cx="137.4" cy="254.2" r="1.7" fill="#e8982a"/>
<circle cx="169.0" cy="270.2" r="1.7" fill="#e8982a"/>
<circle cx="169.0" cy="276.2" r="1.7" fill="#e8982a"/>
<circle cx="137.4" cy="274.3" r="1.7" fill="#6a4812"/>
<line x1="167.7" y1="273.3" x2="170.3" y2="273.3" stroke="#222" stroke-width="0.9"/>
<line x1="137.4" y1="309.2" x2="169.0" y2="309.6" stroke="#fde6c4" stroke-width="1.4"/>
<line x1="137.4" y1="309.8" x2="169.0" y2="309.8" stroke="#fde6c4" stroke-width="1.4"/>
<line x1="137.4" y1="309.2" x2="169.0" y2="309.6" stroke="#e09c3a" stroke-width="0.6"/>
<line x1="137.4" y1="309.8" x2="169.0" y2="309.8" stroke="#e09c3a" stroke-width="0.6"/>
<circle cx="137.4" cy="308" r="1.7" fill="#e8982a"/>
<circle cx="137.4" cy="309.4" r="1.7" fill="#6a4812"/>
<circle cx="169.0" cy="309.8" r="1.7" fill="#6a4812"/>
<line x1="137.4" y1="339.3" x2="169.0" y2="342.8" stroke="#fde6c4" stroke-width="1.4"/>
<line x1="137.4" y1="342.4" x2="169.0" y2="342.8" stroke="#fde6c4" stroke-width="1.4"/>
<line x1="137.4" y1="339.3" x2="169.0" y2="342.8" stroke="#e09c3a" stroke-width="0.6"/>
<line x1="137.4" y1="342.4" x2="169.0" y2="342.8" stroke="#e09c3a" stroke-width="0.6"/>
<circle cx="137.4" cy="342.4" r="1.7" fill="#e8982a"/>
<circle cx="137.4" cy="339.3" r="1.7" fill="#6a4812"/>
<circle cx="169.0" cy="342.8" r="1.7" fill="#6a4812"/>
<text class="s" x="0" y="0" font-size="6.8" text-anchor="middle" fill="#333" transform="translate(162.70,26.40) scale(0.9,1)"><tspan font-style="italic">P</tspan> = .5</text>
<text class="s" x="0" y="0" font-size="6.8" text-anchor="middle" fill="#333" transform="translate(153.10,60.20) scale(0.9,1)"><tspan font-style="italic">P</tspan> = .5</text>
<text class="s" x="0" y="0" font-size="6.8" text-anchor="middle" fill="#333" transform="translate(152.70,93.20) scale(0.9,1)"><tspan font-style="italic">P</tspan> = 1</text>
<text class="s" x="0" y="0" font-size="6.8" text-anchor="middle" fill="#333" transform="translate(152.70,126.20) scale(0.9,1)"><tspan font-style="italic">P</tspan> = 1</text>
<text class="s" x="0" y="0" font-size="6.8" text-anchor="middle" fill="#333" transform="translate(152.70,159.00) scale(0.9,1)"><tspan font-style="italic">P</tspan> = 1</text>
<text class="s" x="0" y="0" font-size="6.8" text-anchor="middle" fill="#333" transform="translate(152.90,192.60) scale(0.9,1)"><tspan font-style="italic">P</tspan> = 1</text>
<text class="s" x="0" y="0" font-size="6.8" text-anchor="middle" fill="#333" transform="translate(152.90,225.60) scale(0.9,1)"><tspan font-style="italic">P</tspan> = 1</text>
<text class="s" x="0" y="0" font-size="6.8" text-anchor="middle" fill="#333" transform="translate(152.70,258.60) scale(0.9,1)"><tspan font-style="italic">P</tspan> = 1</text>
<text class="s" x="0" y="0" font-size="6.8" text-anchor="middle" fill="#333" transform="translate(153.10,291.60) scale(0.9,1)"><tspan font-style="italic">P</tspan> = .5</text>
<text class="s" x="0" y="0" font-size="6.8" text-anchor="middle" fill="#333" transform="translate(152.70,324.60) scale(0.9,1)"><tspan font-style="italic">P</tspan> = 1</text>
<line x1="64.4" y1="344.6" x2="64.4" y2="347.2" stroke="#333" stroke-width="1.2" />
<text class="t" x="64.40" y="355.40" font-size="5.9" text-anchor="middle" fill="#3a3a3a" >1</text>
<line x1="96.0" y1="344.6" x2="96.0" y2="347.2" stroke="#333" stroke-width="1.2" />
<text class="t" x="96.00" y="355.40" font-size="5.9" text-anchor="middle" fill="#3a3a3a" >7</text>
<line x1="137.4" y1="344.6" x2="137.4" y2="347.2" stroke="#333" stroke-width="1.2" />
<text class="t" x="137.40" y="355.40" font-size="5.9" text-anchor="middle" fill="#3a3a3a" >1</text>
<line x1="169.0" y1="344.6" x2="169.0" y2="347.2" stroke="#333" stroke-width="1.2" />
<text class="t" x="169.00" y="355.40" font-size="5.9" text-anchor="middle" fill="#3a3a3a" >7</text>
<text class="t" x="262.50" y="15.85" font-size="11.2" text-anchor="start" fill="#111" font-weight="bold">B</text>
<text class="t" x="332.60" y="13.50" font-size="8.66" text-anchor="middle" fill="#1a1a1a" >CR</text>
<text class="t" x="405.30" y="13.50" font-size="8.66" text-anchor="middle" fill="#1a1a1a" >Non-CR</text>
<rect x="297.6" y="18.3" width="69.40" height="30.95" fill="#fff" stroke="#333" stroke-width="1.25"/>
<rect x="370.6" y="18.3" width="69.40" height="30.95" fill="#fff" stroke="#333" stroke-width="1.25"/>
<rect x="440.0" y="18.3" width="73.45" height="30.95" fill="#fff" stroke="#333" stroke-width="1.25"/>
<text class="t" x="476.73" y="31.57" font-size="6.0" text-anchor="middle" fill="#1a1a1a" >5−Hydroxylndoleacetic</text>
<text class="t" x="476.73" y="38.38" font-size="6.0" text-anchor="middle" fill="#1a1a1a" >acid (5−HIAA)</text>
<text class="s" x="0" y="0" font-size="5.5" text-anchor="end" fill="#3a3a3a" transform="translate(291.60,28.20) scale(1.15,1)">0.004</text>
<line x1="294.8" y1="26.5" x2="297.6" y2="26.5" stroke="#333" stroke-width="1.1" />
<text class="s" x="0" y="0" font-size="5.5" text-anchor="end" fill="#3a3a3a" transform="translate(291.60,38.80) scale(1.15,1)">0.002</text>
<line x1="294.8" y1="37.1" x2="297.6" y2="37.1" stroke="#333" stroke-width="1.1" />
<text class="s" x="0" y="0" font-size="5.5" text-anchor="end" fill="#3a3a3a" transform="translate(291.60,49.50) scale(1.15,1)">0.000</text>
<line x1="294.8" y1="47.8" x2="297.6" y2="47.8" stroke="#333" stroke-width="1.1" />
<rect x="297.6" y="53.28" width="69.40" height="30.95" fill="#fff" stroke="#333" stroke-width="1.25"/>
<rect x="370.6" y="53.28" width="69.40" height="30.95" fill="#fff" stroke="#333" stroke-width="1.25"/>
<rect x="440.0" y="53.28" width="73.45" height="30.95" fill="#fff" stroke="#333" stroke-width="1.25"/>
<text class="t" x="476.73" y="70.85" font-size="6.0" text-anchor="middle" fill="#1a1a1a" >Indole</text>
<text class="s" x="0" y="0" font-size="5.5" text-anchor="end" fill="#3a3a3a" transform="translate(291.60,56.00) scale(1.15,1)">0.08</text>
<line x1="294.8" y1="54.3" x2="297.6" y2="54.3" stroke="#333" stroke-width="1.1" />
<text class="s" x="0" y="0" font-size="5.5" text-anchor="end" fill="#3a3a3a" transform="translate(291.60,63.10) scale(1.15,1)">0.06</text>
<line x1="294.8" y1="61.4" x2="297.6" y2="61.4" stroke="#333" stroke-width="1.1" />
<text class="s" x="0" y="0" font-size="5.5" text-anchor="end" fill="#3a3a3a" transform="translate(291.60,70.10) scale(1.15,1)">0.04</text>
<line x1="294.8" y1="68.4" x2="297.6" y2="68.4" stroke="#333" stroke-width="1.1" />
<text class="s" x="0" y="0" font-size="5.5" text-anchor="end" fill="#3a3a3a" transform="translate(291.60,77.20) scale(1.15,1)">0.02</text>
<line x1="294.8" y1="75.5" x2="297.6" y2="75.5" stroke="#333" stroke-width="1.1" />
<text class="s" x="0" y="0" font-size="5.5" text-anchor="end" fill="#3a3a3a" transform="translate(291.60,84.30) scale(1.15,1)">0.00</text>
<line x1="294.8" y1="82.6" x2="297.6" y2="82.6" stroke="#333" stroke-width="1.1" />
<rect x="297.6" y="88.25999999999999" width="69.40" height="30.95" fill="#fff" stroke="#333" stroke-width="1.25"/>
<rect x="370.6" y="88.25999999999999" width="69.40" height="30.95" fill="#fff" stroke="#333" stroke-width="1.25"/>
<rect x="440.0" y="88.25999999999999" width="73.45" height="30.95" fill="#fff" stroke="#333" stroke-width="1.25"/>
<text class="t" x="476.73" y="105.83" font-size="6.0" text-anchor="middle" fill="#1a1a1a" >Indoxylsulfat</text>
<text class="s" x="0" y="0" font-size="5.5" text-anchor="end" fill="#3a3a3a" transform="translate(291.60,93.00) scale(1.15,1)">400</text>
<line x1="294.8" y1="91.3" x2="297.6" y2="91.3" stroke="#333" stroke-width="1.1" />
<text class="s" x="0" y="0" font-size="5.5" text-anchor="end" fill="#3a3a3a" transform="translate(291.60,99.70) scale(1.15,1)">300</text>
<line x1="294.8" y1="98" x2="297.6" y2="98" stroke="#333" stroke-width="1.1" />
<text class="s" x="0" y="0" font-size="5.5" text-anchor="end" fill="#3a3a3a" transform="translate(291.60,106.30) scale(1.15,1)">200</text>
<line x1="294.8" y1="104.6" x2="297.6" y2="104.6" stroke="#333" stroke-width="1.1" />
<text class="s" x="0" y="0" font-size="5.5" text-anchor="end" fill="#3a3a3a" transform="translate(291.60,113.00) scale(1.15,1)">100</text>
<line x1="294.8" y1="111.3" x2="297.6" y2="111.3" stroke="#333" stroke-width="1.1" />
<text class="s" x="0" y="0" font-size="5.5" text-anchor="end" fill="#3a3a3a" transform="translate(291.60,119.70) scale(1.15,1)">0</text>
<line x1="294.8" y1="118" x2="297.6" y2="118" stroke="#333" stroke-width="1.1" />
<rect x="297.6" y="123.24" width="69.40" height="30.95" fill="#fff" stroke="#333" stroke-width="1.25"/>
<rect x="370.6" y="123.24" width="69.40" height="30.95" fill="#fff" stroke="#333" stroke-width="1.25"/>
<rect x="440.0" y="123.24" width="73.45" height="30.95" fill="#fff" stroke="#333" stroke-width="1.25"/>
<text class="t" x="476.73" y="140.81" font-size="6.0" text-anchor="middle" fill="#1a1a1a" >Serotonin</text>
<text class="s" x="0" y="0" font-size="5.5" text-anchor="end" fill="#3a3a3a" transform="translate(291.60,126.70) scale(1.15,1)">4e−04</text>
<line x1="294.8" y1="125" x2="297.6" y2="125" stroke="#333" stroke-width="1.1" />
<text class="s" x="0" y="0" font-size="5.5" text-anchor="end" fill="#3a3a3a" transform="translate(291.60,133.70) scale(1.15,1)">3e−04</text>
<line x1="294.8" y1="132" x2="297.6" y2="132" stroke="#333" stroke-width="1.1" />
<text class="s" x="0" y="0" font-size="5.5" text-anchor="end" fill="#3a3a3a" transform="translate(291.60,140.70) scale(1.15,1)">2e−04</text>
<line x1="294.8" y1="139" x2="297.6" y2="139" stroke="#333" stroke-width="1.1" />
<text class="s" x="0" y="0" font-size="5.5" text-anchor="end" fill="#3a3a3a" transform="translate(291.60,147.70) scale(1.15,1)">1e−04</text>
<line x1="294.8" y1="146" x2="297.6" y2="146" stroke="#333" stroke-width="1.1" />
<text class="s" x="0" y="0" font-size="5.5" text-anchor="end" fill="#3a3a3a" transform="translate(291.60,154.70) scale(1.15,1)">0e+00</text>
<line x1="294.8" y1="153" x2="297.6" y2="153" stroke="#333" stroke-width="1.1" />
<line x1="316.4" y1="46.4" x2="348.2" y2="44.5" stroke="#d2f4d2" stroke-width="1.4"/>
<line x1="316.4" y1="46.8" x2="348.2" y2="45.6" stroke="#d2f4d2" stroke-width="1.4"/>
<line x1="316.4" y1="47.2" x2="348.2" y2="46.6" stroke="#d2f4d2" stroke-width="1.4"/>
<line x1="316.4" y1="46.4" x2="348.2" y2="44.5" stroke="#4a8c4a" stroke-width="0.6"/>
<line x1="316.4" y1="46.8" x2="348.2" y2="45.6" stroke="#4a8c4a" stroke-width="0.6"/>
<line x1="316.4" y1="47.2" x2="348.2" y2="46.6" stroke="#4a8c4a" stroke-width="0.6"/>
<circle cx="316.4" cy="46.2" r="1.7" fill="#3b8f40"/>
<circle cx="348.2" cy="44.4" r="1.7" fill="#3b8f40"/>
<circle cx="316.4" cy="47" r="1.7" fill="#2b6a30"/>
<circle cx="348.2" cy="46.5" r="1.7" fill="#2b6a30"/>
<line x1="316.4" y1="77.7" x2="348.2" y2="54.4" stroke="#d2f4d2" stroke-width="1.4"/>
<line x1="316.4" y1="78.5" x2="348.2" y2="74.7" stroke="#d2f4d2" stroke-width="1.4"/>
<line x1="316.4" y1="79.8" x2="348.2" y2="76.3" stroke="#d2f4d2" stroke-width="1.4"/>
<line x1="316.4" y1="80.8" x2="348.2" y2="78.4" stroke="#d2f4d2" stroke-width="1.4"/>
<line x1="316.4" y1="81.9" x2="348.2" y2="79.8" stroke="#d2f4d2" stroke-width="1.4"/>
<line x1="316.4" y1="77.7" x2="348.2" y2="54.4" stroke="#4a8c4a" stroke-width="0.6"/>
<line x1="316.4" y1="78.5" x2="348.2" y2="74.7" stroke="#4a8c4a" stroke-width="0.6"/>
<line x1="316.4" y1="79.8" x2="348.2" y2="76.3" stroke="#4a8c4a" stroke-width="0.6"/>
<line x1="316.4" y1="80.8" x2="348.2" y2="78.4" stroke="#4a8c4a" stroke-width="0.6"/>
<line x1="316.4" y1="81.9" x2="348.2" y2="79.8" stroke="#4a8c4a" stroke-width="0.6"/>
<circle cx="316.4" cy="77.7" r="1.7" fill="#3b8f40"/>
<circle cx="316.4" cy="79.8" r="1.7" fill="#3b8f40"/>
<circle cx="348.2" cy="54.4" r="1.7" fill="#3b8f40"/>
<circle cx="348.2" cy="74.7" r="1.7" fill="#3b8f40"/>
<circle cx="348.2" cy="76.3" r="1.7" fill="#3b8f40"/>
<circle cx="348.2" cy="79.8" r="1.7" fill="#3b8f40"/>
<circle cx="316.4" cy="80.8" r="1.7" fill="#2b6a30"/>
<circle cx="316.4" cy="81.9" r="1.7" fill="#2b6a30"/>
<circle cx="348.2" cy="78.4" r="1.7" fill="#2b6a30"/>
<line x1="316.4" y1="112.3" x2="348.2" y2="105.4" stroke="#d2f4d2" stroke-width="1.4"/>
<line x1="316.4" y1="113.7" x2="348.2" y2="111.6" stroke="#d2f4d2" stroke-width="1.4"/>
<line x1="316.4" y1="115.1" x2="348.2" y2="113" stroke="#d2f4d2" stroke-width="1.4"/>
<line x1="316.4" y1="117.2" x2="348.2" y2="114.4" stroke="#d2f4d2" stroke-width="1.4"/>
<line x1="316.4" y1="118.5" x2="348.2" y2="113.8" stroke="#d2f4d2" stroke-width="1.4"/>
<line x1="316.4" y1="112.3" x2="348.2" y2="105.4" stroke="#4a8c4a" stroke-width="0.6"/>
<line x1="316.4" y1="113.7" x2="348.2" y2="111.6" stroke="#4a8c4a" stroke-width="0.6"/>
<line x1="316.4" y1="115.1" x2="348.2" y2="113" stroke="#4a8c4a" stroke-width="0.6"/>
<line x1="316.4" y1="117.2" x2="348.2" y2="114.4" stroke="#4a8c4a" stroke-width="0.6"/>
<line x1="316.4" y1="118.5" x2="348.2" y2="113.8" stroke="#4a8c4a" stroke-width="0.6"/>
<circle cx="316.4" cy="112.3" r="1.7" fill="#3b8f40"/>
<circle cx="316.4" cy="113.7" r="1.7" fill="#3b8f40"/>
<circle cx="316.4" cy="118.5" r="1.7" fill="#3b8f40"/>
<circle cx="348.2" cy="105.4" r="1.7" fill="#3b8f40"/>
<circle cx="348.2" cy="111.6" r="1.7" fill="#3b8f40"/>
<circle cx="348.2" cy="113" r="1.7" fill="#3b8f40"/>
<circle cx="316.4" cy="115.1" r="1.7" fill="#2b6a30"/>
<circle cx="316.4" cy="117.2" r="1.7" fill="#2b6a30"/>
<circle cx="348.2" cy="114.4" r="1.7" fill="#2b6a30"/>
<line x1="316.4" y1="126.3" x2="348.2" y2="124.5" stroke="#d2f4d2" stroke-width="1.4"/>
<line x1="316.4" y1="147.3" x2="348.2" y2="143.2" stroke="#d2f4d2" stroke-width="1.4"/>
<line x1="316.4" y1="148.7" x2="348.2" y2="145.2" stroke="#d2f4d2" stroke-width="1.4"/>
<line x1="316.4" y1="150.4" x2="348.2" y2="147.3" stroke="#d2f4d2" stroke-width="1.4"/>
<line x1="316.4" y1="149.5" x2="348.2" y2="149.4" stroke="#d2f4d2" stroke-width="1.4"/>
<line x1="316.4" y1="126.3" x2="348.2" y2="124.5" stroke="#4a8c4a" stroke-width="0.6"/>
<line x1="316.4" y1="147.3" x2="348.2" y2="143.2" stroke="#4a8c4a" stroke-width="0.6"/>
<line x1="316.4" y1="148.7" x2="348.2" y2="145.2" stroke="#4a8c4a" stroke-width="0.6"/>
<line x1="316.4" y1="150.4" x2="348.2" y2="147.3" stroke="#4a8c4a" stroke-width="0.6"/>
<line x1="316.4" y1="149.5" x2="348.2" y2="149.4" stroke="#4a8c4a" stroke-width="0.6"/>
<circle cx="316.4" cy="126.3" r="1.7" fill="#3b8f40"/>
<circle cx="316.4" cy="147.3" r="1.7" fill="#3b8f40"/>
<circle cx="316.4" cy="150.4" r="1.7" fill="#3b8f40"/>
<circle cx="348.2" cy="124.5" r="1.7" fill="#3b8f40"/>
<circle cx="348.2" cy="143.2" r="1.7" fill="#3b8f40"/>
<circle cx="348.2" cy="145.2" r="1.7" fill="#3b8f40"/>
<circle cx="348.2" cy="149.4" r="1.7" fill="#3b8f40"/>
<circle cx="316.4" cy="148.7" r="1.7" fill="#2b6a30"/>
<circle cx="348.2" cy="147.3" r="1.7" fill="#2b6a30"/>
<text class="s" x="0" y="0" font-size="6.8" text-anchor="middle" fill="#333" transform="translate(332.00,27.50) scale(0.9,1)"><tspan font-style="italic">P</tspan> = .031</text>
<text class="s" x="0" y="0" font-size="6.8" text-anchor="middle" fill="#333" transform="translate(326.50,61.60) scale(0.9,1)"><tspan font-style="italic">P</tspan> = .031</text>
<text class="s" x="0" y="0" font-size="6.8" text-anchor="middle" fill="#333" transform="translate(332.30,97.30) scale(0.9,1)"><tspan font-style="italic">P</tspan> = .016</text>
<text class="s" x="0" y="0" font-size="6.8" text-anchor="middle" fill="#333" transform="translate(332.00,132.50) scale(0.9,1)"><tspan font-style="italic">P</tspan> = .031</text>
<line x1="389.1" y1="46.5" x2="420.5" y2="46.5" stroke="#fde6c4" stroke-width="1.4"/>
<line x1="389.1" y1="47" x2="420.5" y2="47" stroke="#fde6c4" stroke-width="1.4"/>
<line x1="389.1" y1="46.5" x2="420.5" y2="46.5" stroke="#e09c3a" stroke-width="0.6"/>
<line x1="389.1" y1="47" x2="420.5" y2="47" stroke="#e09c3a" stroke-width="0.6"/>
<circle cx="389.1" cy="18.5" r="1.7" fill="#e8982a"/>
<circle cx="389.1" cy="46.5" r="1.7" fill="#6a4812"/>
<circle cx="420.5" cy="46.5" r="1.7" fill="#6a4812"/>
<line x1="389.1" y1="74.9" x2="420.5" y2="71.2" stroke="#fde6c4" stroke-width="1.4"/>
<line x1="389.1" y1="82.5" x2="420.5" y2="82.5" stroke="#fde6c4" stroke-width="1.4"/>
<line x1="389.1" y1="74.9" x2="420.5" y2="71.2" stroke="#e09c3a" stroke-width="0.6"/>
<line x1="389.1" y1="82.5" x2="420.5" y2="82.5" stroke="#e09c3a" stroke-width="0.6"/>
<circle cx="389.1" cy="74.9" r="1.7" fill="#e8982a"/>
<circle cx="420.5" cy="71.2" r="1.7" fill="#e8982a"/>
<circle cx="420.5" cy="82.5" r="1.7" fill="#e8982a"/>
<circle cx="389.1" cy="82.5" r="1.7" fill="#6a4812"/>
<line x1="419.2" y1="77.3" x2="421.8" y2="77.3" stroke="#222" stroke-width="0.9"/>
<line x1="389.1" y1="113.4" x2="420.5" y2="109.3" stroke="#fde6c4" stroke-width="1.4"/>
<line x1="389.1" y1="113.4" x2="420.5" y2="109.3" stroke="#e09c3a" stroke-width="0.6"/>
<circle cx="389.1" cy="89.5" r="1.7" fill="#e8982a"/>
<circle cx="389.1" cy="117.2" r="1.7" fill="#e8982a"/>
<circle cx="420.5" cy="109.3" r="1.7" fill="#e8982a"/>
<circle cx="389.1" cy="113.4" r="1.7" fill="#6a4812"/>
<line x1="389.1" y1="148" x2="420.5" y2="146.2" stroke="#fde6c4" stroke-width="1.4"/>
<line x1="389.1" y1="150.1" x2="420.5" y2="152.6" stroke="#fde6c4" stroke-width="1.4"/>
<line x1="389.1" y1="148" x2="420.5" y2="146.2" stroke="#e09c3a" stroke-width="0.6"/>
<line x1="389.1" y1="150.1" x2="420.5" y2="152.6" stroke="#e09c3a" stroke-width="0.6"/>
<circle cx="389.1" cy="148" r="1.7" fill="#e8982a"/>
<circle cx="389.1" cy="151.5" r="1.7" fill="#e8982a"/>
<circle cx="420.5" cy="146.2" r="1.7" fill="#e8982a"/>
<circle cx="420.5" cy="152.6" r="1.7" fill="#e8982a"/>
<circle cx="389.1" cy="150.1" r="1.7" fill="#6a4812"/>
<line x1="419.2" y1="149.7" x2="421.8" y2="149.7" stroke="#222" stroke-width="0.9"/>
<text class="s" x="0" y="0" font-size="6.8" text-anchor="middle" fill="#333" transform="translate(405.00,27.50) scale(0.9,1)"><tspan font-style="italic">P</tspan> = .5</text>
<text class="s" x="0" y="0" font-size="6.8" text-anchor="middle" fill="#333" transform="translate(404.60,62.30) scale(0.9,1)"><tspan font-style="italic">P</tspan> = 1</text>
<text class="s" x="0" y="0" font-size="6.8" text-anchor="middle" fill="#333" transform="translate(404.60,97.60) scale(0.9,1)"><tspan font-style="italic">P</tspan> = 1</text>
<text class="s" x="0" y="0" font-size="6.8" text-anchor="middle" fill="#333" transform="translate(404.60,132.60) scale(0.9,1)"><tspan font-style="italic">P</tspan> = 1</text>
<line x1="316.4" y1="154.2" x2="316.4" y2="156.8" stroke="#333" stroke-width="1.2" />
<text class="t" x="316.40" y="165.10" font-size="5.9" text-anchor="middle" fill="#3a3a3a" >1</text>
<line x1="348.2" y1="154.2" x2="348.2" y2="156.8" stroke="#333" stroke-width="1.2" />
<text class="t" x="348.20" y="165.10" font-size="5.9" text-anchor="middle" fill="#3a3a3a" >7</text>
<line x1="389.1" y1="154.2" x2="389.1" y2="156.8" stroke="#333" stroke-width="1.2" />
<text class="t" x="389.10" y="165.10" font-size="5.9" text-anchor="middle" fill="#3a3a3a" >1</text>
<line x1="420.5" y1="154.2" x2="420.5" y2="156.8" stroke="#333" stroke-width="1.2" />
<text class="t" x="420.50" y="165.10" font-size="5.9" text-anchor="middle" fill="#3a3a3a" >7</text>
<text class="t" x="262.40" y="212.20" font-size="11.2" text-anchor="start" fill="#111" font-weight="bold">C</text>
<text class="t" x="332.50" y="210.20" font-size="8.66" text-anchor="middle" fill="#1a1a1a" >CR</text>
<text class="t" x="405.40" y="210.20" font-size="8.66" text-anchor="middle" fill="#1a1a1a" >Non-CR</text>
<rect x="297.7" y="215.3" width="69.30" height="30.40" fill="#fff" stroke="#333" stroke-width="1.25"/>
<rect x="370.6" y="215.3" width="69.40" height="30.40" fill="#fff" stroke="#333" stroke-width="1.25"/>
<rect x="440.0" y="215.3" width="50.70" height="30.40" fill="#fff" stroke="#333" stroke-width="1.25"/>
<text class="t" x="465.35" y="228.40" font-size="6.0" text-anchor="middle" fill="#1a1a1a" >Butyric</text>
<text class="t" x="465.35" y="235.20" font-size="6.0" text-anchor="middle" fill="#1a1a1a" >Acid</text>
<text class="s" x="0" y="0" font-size="5.5" text-anchor="end" fill="#3a3a3a" transform="translate(291.70,222.80) scale(1.15,1)">1.5</text>
<line x1="294.9" y1="221.1" x2="297.7" y2="221.1" stroke="#333" stroke-width="1.1" />
<text class="s" x="0" y="0" font-size="5.5" text-anchor="end" fill="#3a3a3a" transform="translate(291.70,230.40) scale(1.15,1)">1.0</text>
<line x1="294.9" y1="228.7" x2="297.7" y2="228.7" stroke="#333" stroke-width="1.1" />
<text class="s" x="0" y="0" font-size="5.5" text-anchor="end" fill="#3a3a3a" transform="translate(291.70,238.30) scale(1.15,1)">0.5</text>
<line x1="294.9" y1="236.6" x2="297.7" y2="236.6" stroke="#333" stroke-width="1.1" />
<text class="s" x="0" y="0" font-size="5.5" text-anchor="end" fill="#3a3a3a" transform="translate(291.70,246.00) scale(1.15,1)">0.0</text>
<line x1="294.9" y1="244.3" x2="297.7" y2="244.3" stroke="#333" stroke-width="1.1" />
<rect x="297.7" y="250.10000000000002" width="69.30" height="30.40" fill="#fff" stroke="#333" stroke-width="1.25"/>
<rect x="370.6" y="250.10000000000002" width="69.40" height="30.40" fill="#fff" stroke="#333" stroke-width="1.25"/>
<rect x="440.0" y="250.10000000000002" width="50.70" height="30.40" fill="#fff" stroke="#333" stroke-width="1.25"/>
<text class="t" x="465.35" y="263.20" font-size="6.0" text-anchor="middle" fill="#1a1a1a" >IsoButyric</text>
<text class="t" x="465.35" y="270.00" font-size="6.0" text-anchor="middle" fill="#1a1a1a" >Acid</text>
<text class="s" x="0" y="0" font-size="5.5" text-anchor="end" fill="#3a3a3a" transform="translate(291.70,260.40) scale(1.15,1)">0.4</text>
<line x1="294.9" y1="258.7" x2="297.7" y2="258.7" stroke="#333" stroke-width="1.1" />
<text class="s" x="0" y="0" font-size="5.5" text-anchor="end" fill="#3a3a3a" transform="translate(291.70,270.70) scale(1.15,1)">0.2</text>
<line x1="294.9" y1="269" x2="297.7" y2="269" stroke="#333" stroke-width="1.1" />
<text class="s" x="0" y="0" font-size="5.5" text-anchor="end" fill="#3a3a3a" transform="translate(291.70,280.90) scale(1.15,1)">0.0</text>
<line x1="294.9" y1="279.2" x2="297.7" y2="279.2" stroke="#333" stroke-width="1.1" />
<rect x="297.7" y="284.9" width="69.30" height="30.40" fill="#fff" stroke="#333" stroke-width="1.25"/>
<rect x="370.6" y="284.9" width="69.40" height="30.40" fill="#fff" stroke="#333" stroke-width="1.25"/>
<rect x="440.0" y="284.9" width="50.70" height="30.40" fill="#fff" stroke="#333" stroke-width="1.25"/>
<text class="t" x="465.35" y="298.00" font-size="6.0" text-anchor="middle" fill="#1a1a1a" >Isovaleric</text>
<text class="t" x="465.35" y="304.80" font-size="6.0" text-anchor="middle" fill="#1a1a1a" >Acid</text>
<text class="s" x="0" y="0" font-size="5.5" text-anchor="end" fill="#3a3a3a" transform="translate(291.70,288.90) scale(1.15,1)">0.15</text>
<line x1="294.9" y1="287.2" x2="297.7" y2="287.2" stroke="#333" stroke-width="1.1" />
<text class="s" x="0" y="0" font-size="5.5" text-anchor="end" fill="#3a3a3a" transform="translate(291.70,298.10) scale(1.15,1)">0.10</text>
<line x1="294.9" y1="296.4" x2="297.7" y2="296.4" stroke="#333" stroke-width="1.1" />
<text class="s" x="0" y="0" font-size="5.5" text-anchor="end" fill="#3a3a3a" transform="translate(291.70,307.20) scale(1.15,1)">0.05</text>
<line x1="294.9" y1="305.5" x2="297.7" y2="305.5" stroke="#333" stroke-width="1.1" />
<text class="s" x="0" y="0" font-size="5.5" text-anchor="end" fill="#3a3a3a" transform="translate(291.70,315.40) scale(1.15,1)">0.00</text>
<line x1="294.9" y1="313.7" x2="297.7" y2="313.7" stroke="#333" stroke-width="1.1" />
<rect x="297.7" y="319.7" width="69.30" height="30.40" fill="#fff" stroke="#333" stroke-width="1.25"/>
<rect x="370.6" y="319.7" width="69.40" height="30.40" fill="#fff" stroke="#333" stroke-width="1.25"/>
<rect x="440.0" y="319.7" width="50.70" height="30.40" fill="#fff" stroke="#333" stroke-width="1.25"/>
<text class="t" x="465.35" y="332.80" font-size="6.0" text-anchor="middle" fill="#1a1a1a" >Pentanoic</text>
<text class="t" x="465.35" y="339.60" font-size="6.0" text-anchor="middle" fill="#1a1a1a" >Acid</text>
<text class="s" x="0" y="0" font-size="5.5" text-anchor="end" fill="#3a3a3a" transform="translate(291.70,322.70) scale(1.15,1)">0.4</text>
<line x1="294.9" y1="321" x2="297.7" y2="321" stroke="#333" stroke-width="1.1" />
<text class="s" x="0" y="0" font-size="5.5" text-anchor="end" fill="#3a3a3a" transform="translate(291.70,329.70) scale(1.15,1)">0.3</text>
<line x1="294.9" y1="328" x2="297.7" y2="328" stroke="#333" stroke-width="1.1" />
<text class="s" x="0" y="0" font-size="5.5" text-anchor="end" fill="#3a3a3a" transform="translate(291.70,336.60) scale(1.15,1)">0.2</text>
<line x1="294.9" y1="334.9" x2="297.7" y2="334.9" stroke="#333" stroke-width="1.1" />
<text class="s" x="0" y="0" font-size="5.5" text-anchor="end" fill="#3a3a3a" transform="translate(291.70,343.50) scale(1.15,1)">0.1</text>
<line x1="294.9" y1="341.8" x2="297.7" y2="341.8" stroke="#333" stroke-width="1.1" />
<text class="s" x="0" y="0" font-size="5.5" text-anchor="end" fill="#3a3a3a" transform="translate(291.70,350.50) scale(1.15,1)">0.0</text>
<line x1="294.9" y1="348.8" x2="297.7" y2="348.8" stroke="#333" stroke-width="1.1" />
<line x1="316.4" y1="231" x2="348.2" y2="215.8" stroke="#d2f4d2" stroke-width="1.4"/>
<line x1="316.4" y1="237.9" x2="348.2" y2="221.6" stroke="#d2f4d2" stroke-width="1.4"/>
<line x1="316.4" y1="239.6" x2="348.2" y2="224.8" stroke="#d2f4d2" stroke-width="1.4"/>
<line x1="316.4" y1="241.4" x2="348.2" y2="232.1" stroke="#d2f4d2" stroke-width="1.4"/>
<line x1="316.4" y1="244.2" x2="348.2" y2="233.8" stroke="#d2f4d2" stroke-width="1.4"/>
<line x1="316.4" y1="244.2" x2="348.2" y2="242.1" stroke="#d2f4d2" stroke-width="1.4"/>
<line x1="316.4" y1="244.6" x2="348.2" y2="244.2" stroke="#d2f4d2" stroke-width="1.4"/>
<line x1="316.4" y1="231" x2="348.2" y2="215.8" stroke="#4a8c4a" stroke-width="0.6"/>
<line x1="316.4" y1="237.9" x2="348.2" y2="221.6" stroke="#4a8c4a" stroke-width="0.6"/>
<line x1="316.4" y1="239.6" x2="348.2" y2="224.8" stroke="#4a8c4a" stroke-width="0.6"/>
<line x1="316.4" y1="241.4" x2="348.2" y2="232.1" stroke="#4a8c4a" stroke-width="0.6"/>
<line x1="316.4" y1="244.2" x2="348.2" y2="233.8" stroke="#4a8c4a" stroke-width="0.6"/>
<line x1="316.4" y1="244.2" x2="348.2" y2="242.1" stroke="#4a8c4a" stroke-width="0.6"/>
<line x1="316.4" y1="244.6" x2="348.2" y2="244.2" stroke="#4a8c4a" stroke-width="0.6"/>
<circle cx="316.4" cy="231" r="1.7" fill="#3b8f40"/>
<circle cx="316.4" cy="237.9" r="1.7" fill="#3b8f40"/>
<circle cx="316.4" cy="244.2" r="1.7" fill="#3b8f40"/>
<circle cx="348.2" cy="215.8" r="1.7" fill="#3b8f40"/>
<circle cx="348.2" cy="221.6" r="1.7" fill="#3b8f40"/>
<circle cx="348.2" cy="224.8" r="1.7" fill="#3b8f40"/>
<circle cx="348.2" cy="233.8" r="1.7" fill="#3b8f40"/>
<circle cx="348.2" cy="242.1" r="1.7" fill="#3b8f40"/>
<circle cx="348.2" cy="244.2" r="1.7" fill="#3b8f40"/>
<circle cx="316.4" cy="239.6" r="1.7" fill="#2b6a30"/>
<circle cx="316.4" cy="241.4" r="1.7" fill="#2b6a30"/>
<circle cx="348.2" cy="232.1" r="1.7" fill="#2b6a30"/>
<line x1="316.4" y1="272.9" x2="348.2" y2="266" stroke="#d2f4d2" stroke-width="1.4"/>
<line x1="316.4" y1="275" x2="348.2" y2="267.7" stroke="#d2f4d2" stroke-width="1.4"/>
<line x1="316.4" y1="277.4" x2="348.2" y2="272.2" stroke="#d2f4d2" stroke-width="1.4"/>
<line x1="316.4" y1="278.7" x2="348.2" y2="276.4" stroke="#d2f4d2" stroke-width="1.4"/>
<line x1="316.4" y1="278.9" x2="348.2" y2="278.5" stroke="#d2f4d2" stroke-width="1.4"/>
<line x1="316.4" y1="272.9" x2="348.2" y2="266" stroke="#4a8c4a" stroke-width="0.6"/>
<line x1="316.4" y1="275" x2="348.2" y2="267.7" stroke="#4a8c4a" stroke-width="0.6"/>
<line x1="316.4" y1="277.4" x2="348.2" y2="272.2" stroke="#4a8c4a" stroke-width="0.6"/>
<line x1="316.4" y1="278.7" x2="348.2" y2="276.4" stroke="#4a8c4a" stroke-width="0.6"/>
<line x1="316.4" y1="278.9" x2="348.2" y2="278.5" stroke="#4a8c4a" stroke-width="0.6"/>
<circle cx="316.4" cy="272.9" r="1.7" fill="#3b8f40"/>
<circle cx="316.4" cy="275" r="1.7" fill="#3b8f40"/>
<circle cx="316.4" cy="278.7" r="1.7" fill="#3b8f40"/>
<circle cx="348.2" cy="266" r="1.7" fill="#3b8f40"/>
<circle cx="348.2" cy="267.7" r="1.7" fill="#3b8f40"/>
<circle cx="348.2" cy="276.4" r="1.7" fill="#3b8f40"/>
<circle cx="348.2" cy="278.5" r="1.7" fill="#3b8f40"/>
<circle cx="316.4" cy="277.4" r="1.7" fill="#2b6a30"/>
<circle cx="348.2" cy="272.2" r="1.7" fill="#2b6a30"/>
<line x1="316.4" y1="303.5" x2="348.2" y2="301" stroke="#d2f4d2" stroke-width="1.4"/>
<line x1="316.4" y1="306" x2="348.2" y2="298" stroke="#d2f4d2" stroke-width="1.4"/>
<line x1="316.4" y1="309" x2="348.2" y2="305.9" stroke="#d2f4d2" stroke-width="1.4"/>
<line x1="316.4" y1="311.5" x2="348.2" y2="300" stroke="#d2f4d2" stroke-width="1.4"/>
<line x1="316.4" y1="313" x2="348.2" y2="307" stroke="#d2f4d2" stroke-width="1.4"/>
<line x1="316.4" y1="314.3" x2="348.2" y2="312.8" stroke="#d2f4d2" stroke-width="1.4"/>
<line x1="316.4" y1="303.5" x2="348.2" y2="301" stroke="#4a8c4a" stroke-width="0.6"/>
<line x1="316.4" y1="306" x2="348.2" y2="298" stroke="#4a8c4a" stroke-width="0.6"/>
<line x1="316.4" y1="309" x2="348.2" y2="305.9" stroke="#4a8c4a" stroke-width="0.6"/>
<line x1="316.4" y1="311.5" x2="348.2" y2="300" stroke="#4a8c4a" stroke-width="0.6"/>
<line x1="316.4" y1="313" x2="348.2" y2="307" stroke="#4a8c4a" stroke-width="0.6"/>
<line x1="316.4" y1="314.3" x2="348.2" y2="312.8" stroke="#4a8c4a" stroke-width="0.6"/>
<circle cx="316.4" cy="303.1" r="1.7" fill="#3b8f40"/>
<circle cx="316.4" cy="305.9" r="1.7" fill="#3b8f40"/>
<circle cx="316.4" cy="308" r="1.7" fill="#3b8f40"/>
<circle cx="316.4" cy="311.4" r="1.7" fill="#3b8f40"/>
<circle cx="316.4" cy="313.5" r="1.7" fill="#3b8f40"/>
<circle cx="316.4" cy="314.3" r="1.7" fill="#3b8f40"/>
<circle cx="348.2" cy="297.5" r="1.7" fill="#3b8f40"/>
<circle cx="348.2" cy="299.6" r="1.7" fill="#3b8f40"/>
<circle cx="348.2" cy="301.7" r="1.7" fill="#3b8f40"/>
<circle cx="348.2" cy="305.9" r="1.7" fill="#3b8f40"/>
<circle cx="348.2" cy="307.5" r="1.7" fill="#3b8f40"/>
<circle cx="348.2" cy="312.8" r="1.7" fill="#3b8f40"/>
<circle cx="316.4" cy="309.4" r="1.7" fill="#2b6a30"/>
<circle cx="348.2" cy="303.5" r="1.7" fill="#2b6a30"/>
<line x1="316.4" y1="334.3" x2="348.2" y2="328.4" stroke="#d2f4d2" stroke-width="1.4"/>
<line x1="316.4" y1="345.7" x2="348.2" y2="335.3" stroke="#d2f4d2" stroke-width="1.4"/>
<line x1="316.4" y1="347.8" x2="348.2" y2="346.4" stroke="#d2f4d2" stroke-width="1.4"/>
<line x1="316.4" y1="348.7" x2="348.2" y2="348.2" stroke="#d2f4d2" stroke-width="1.4"/>
<line x1="316.4" y1="334.3" x2="348.2" y2="328.4" stroke="#4a8c4a" stroke-width="0.6"/>
<line x1="316.4" y1="345.7" x2="348.2" y2="335.3" stroke="#4a8c4a" stroke-width="0.6"/>
<line x1="316.4" y1="347.8" x2="348.2" y2="346.4" stroke="#4a8c4a" stroke-width="0.6"/>
<line x1="316.4" y1="348.7" x2="348.2" y2="348.2" stroke="#4a8c4a" stroke-width="0.6"/>
<circle cx="316.4" cy="334.3" r="1.7" fill="#3b8f40"/>
<circle cx="316.4" cy="345.7" r="1.7" fill="#3b8f40"/>
<circle cx="348.2" cy="328.4" r="1.7" fill="#3b8f40"/>
<circle cx="348.2" cy="335.3" r="1.7" fill="#3b8f40"/>
<circle cx="316.4" cy="347.8" r="1.7" fill="#2b6a30"/>
<circle cx="316.4" cy="348.7" r="1.7" fill="#2b6a30"/>
<circle cx="348.2" cy="346.4" r="1.7" fill="#2b6a30"/>
<circle cx="348.2" cy="348.2" r="1.7" fill="#2b6a30"/>
<text class="s" x="0" y="0" font-size="6.8" text-anchor="middle" fill="#333" transform="translate(324.70,223.20) scale(0.9,1)"><tspan font-style="italic">P</tspan> = .016</text>
<text class="s" x="0" y="0" font-size="6.8" text-anchor="middle" fill="#333" transform="translate(332.40,258.90) scale(0.9,1)"><tspan font-style="italic">P</tspan> = .016</text>
<text class="s" x="0" y="0" font-size="6.8" text-anchor="middle" fill="#333" transform="translate(332.40,293.90) scale(0.9,1)"><tspan font-style="italic">P</tspan> = .016</text>
<text class="s" x="0" y="0" font-size="6.8" text-anchor="middle" fill="#333" transform="translate(332.10,328.90) scale(0.9,1)"><tspan font-style="italic">P</tspan> = .031</text>
<line x1="389.1" y1="238.6" x2="420.5" y2="225.7" stroke="#fde6c4" stroke-width="1.4"/>
<line x1="389.1" y1="244.9" x2="420.5" y2="244.2" stroke="#fde6c4" stroke-width="1.4"/>
<line x1="389.1" y1="238.6" x2="420.5" y2="225.7" stroke="#e09c3a" stroke-width="0.6"/>
<line x1="389.1" y1="244.9" x2="420.5" y2="244.2" stroke="#e09c3a" stroke-width="0.6"/>
<circle cx="389.1" cy="238.6" r="1.7" fill="#e8982a"/>
<circle cx="389.1" cy="244.9" r="1.7" fill="#e8982a"/>
<circle cx="420.5" cy="225.7" r="1.7" fill="#e8982a"/>
<circle cx="420.5" cy="244.2" r="1.7" fill="#e8982a"/>
<line x1="387.8" y1="241.4" x2="390.40000000000003" y2="241.4" stroke="#222" stroke-width="0.9"/>
<line x1="419.2" y1="235.2" x2="421.8" y2="235.2" stroke="#222" stroke-width="0.9"/>
<line x1="389.1" y1="271.8" x2="420.5" y2="251" stroke="#fde6c4" stroke-width="1.4"/>
<line x1="389.1" y1="277.8" x2="420.5" y2="278.7" stroke="#fde6c4" stroke-width="1.4"/>
<line x1="389.1" y1="271.8" x2="420.5" y2="251" stroke="#e09c3a" stroke-width="0.6"/>
<line x1="389.1" y1="277.8" x2="420.5" y2="278.7" stroke="#e09c3a" stroke-width="0.6"/>
<circle cx="389.1" cy="271.8" r="1.7" fill="#e8982a"/>
<circle cx="420.5" cy="251" r="1.7" fill="#e8982a"/>
<circle cx="420.5" cy="278.7" r="1.7" fill="#e8982a"/>
<circle cx="389.1" cy="277.8" r="1.7" fill="#6a4812"/>
<line x1="419.2" y1="265.3" x2="421.8" y2="265.3" stroke="#222" stroke-width="0.9"/>
<line x1="389.1" y1="299.9" x2="420.5" y2="286" stroke="#fde6c4" stroke-width="1.4"/>
<line x1="389.1" y1="312.8" x2="420.5" y2="313.7" stroke="#fde6c4" stroke-width="1.4"/>
<line x1="389.1" y1="299.9" x2="420.5" y2="286" stroke="#e09c3a" stroke-width="0.6"/>
<line x1="389.1" y1="312.8" x2="420.5" y2="313.7" stroke="#e09c3a" stroke-width="0.6"/>
<circle cx="389.1" cy="299.9" r="1.7" fill="#e8982a"/>
<circle cx="420.5" cy="286" r="1.7" fill="#e8982a"/>
<circle cx="420.5" cy="313.7" r="1.7" fill="#e8982a"/>
<circle cx="389.1" cy="312.8" r="1.7" fill="#6a4812"/>
<line x1="419.2" y1="300.3" x2="421.8" y2="300.3" stroke="#222" stroke-width="0.9"/>
<line x1="389.1" y1="347.8" x2="420.5" y2="320.5" stroke="#fde6c4" stroke-width="1.4"/>
<line x1="389.1" y1="347.8" x2="420.5" y2="348.7" stroke="#fde6c4" stroke-width="1.4"/>
<line x1="389.1" y1="347.8" x2="420.5" y2="320.5" stroke="#e09c3a" stroke-width="0.6"/>
<line x1="389.1" y1="347.8" x2="420.5" y2="348.7" stroke="#e09c3a" stroke-width="0.6"/>
<circle cx="420.5" cy="320.5" r="1.7" fill="#e8982a"/>
<circle cx="420.5" cy="348.7" r="1.7" fill="#e8982a"/>
<circle cx="389.1" cy="347.8" r="1.7" fill="#6a4812"/>
<line x1="419.2" y1="334.9" x2="421.8" y2="334.9" stroke="#222" stroke-width="0.9"/>
<text class="s" x="0" y="0" font-size="6.8" text-anchor="middle" fill="#333" transform="translate(404.80,224.20) scale(0.9,1)"><tspan font-style="italic">P</tspan> = 1</text>
<text class="s" x="0" y="0" font-size="6.8" text-anchor="middle" fill="#333" transform="translate(400.80,257.50) scale(0.9,1)"><tspan font-style="italic">P</tspan> = 1</text>
<text class="s" x="0" y="0" font-size="6.8" text-anchor="middle" fill="#333" transform="translate(397.00,291.80) scale(0.9,1)"><tspan font-style="italic">P</tspan> = 1</text>
<text class="s" x="0" y="0" font-size="6.8" text-anchor="middle" fill="#333" transform="translate(401.90,329.20) scale(0.9,1)"><tspan font-style="italic">P</tspan> = 1</text>
<line x1="316.4" y1="350.9" x2="316.4" y2="353.5" stroke="#333" stroke-width="1.2" />
<text class="t" x="316.40" y="361.60" font-size="5.9" text-anchor="middle" fill="#3a3a3a" >1</text>
<line x1="348.2" y1="350.9" x2="348.2" y2="353.5" stroke="#333" stroke-width="1.2" />
<text class="t" x="348.20" y="361.60" font-size="5.9" text-anchor="middle" fill="#3a3a3a" >7</text>
<line x1="389.1" y1="350.9" x2="389.1" y2="353.5" stroke="#333" stroke-width="1.2" />
<text class="t" x="389.10" y="361.60" font-size="5.9" text-anchor="middle" fill="#3a3a3a" >1</text>
<line x1="420.5" y1="350.9" x2="420.5" y2="353.5" stroke="#333" stroke-width="1.2" />
<text class="t" x="420.50" y="361.60" font-size="5.9" text-anchor="middle" fill="#3a3a3a" >7</text>
<text x="0" y="0" font-size="7.4" font-weight="bold" text-anchor="middle" fill="#1a1a1a" transform="translate(116.7,366.3) scale(0.72,1)">Day</text>
<text x="0" y="0" font-size="7.4" font-weight="bold" text-anchor="middle" fill="#1a1a1a" transform="translate(368.6,176.5) scale(0.72,1)">Day</text>
<text x="0" y="0" font-size="7.4" font-weight="bold" text-anchor="middle" fill="#1a1a1a" transform="translate(368.6,372.8) scale(0.72,1)">Day</text>
<text x="0" y="0" font-size="7.4" font-weight="bold" text-anchor="middle" fill="#1a1a1a" transform="translate(13.3,181.2) rotate(-90) scale(0.72,1)">Value</text>
<text x="0" y="0" font-size="7.4" font-weight="bold" text-anchor="middle" fill="#1a1a1a" transform="translate(268.8,88) rotate(-90) scale(0.72,1)">Value</text>
<text x="0" y="0" font-size="7.4" font-weight="bold" text-anchor="middle" fill="#1a1a1a" transform="translate(275,282.5) rotate(-90) scale(0.72,1)">Value</text>
<text class="t" x="49.6" y="377" font-size="5.85" fill="#1a1a1a">Unadjusted <tspan font-style="italic">P</tspan>−values from Wilcoxon signed rank test</text>
<text class="t" x="301.3" y="187.0" font-size="5.85" fill="#1a1a1a">Unadjusted <tspan font-style="italic">P</tspan>−values from Wilcoxon signed rank test</text>
<text class="t" x="301.7" y="383.4" font-size="5.85" fill="#1a1a1a">Unadjusted <tspan font-style="italic">P</tspan>−values from Wilcoxon signed rank test</text>
</svg></body></html>
